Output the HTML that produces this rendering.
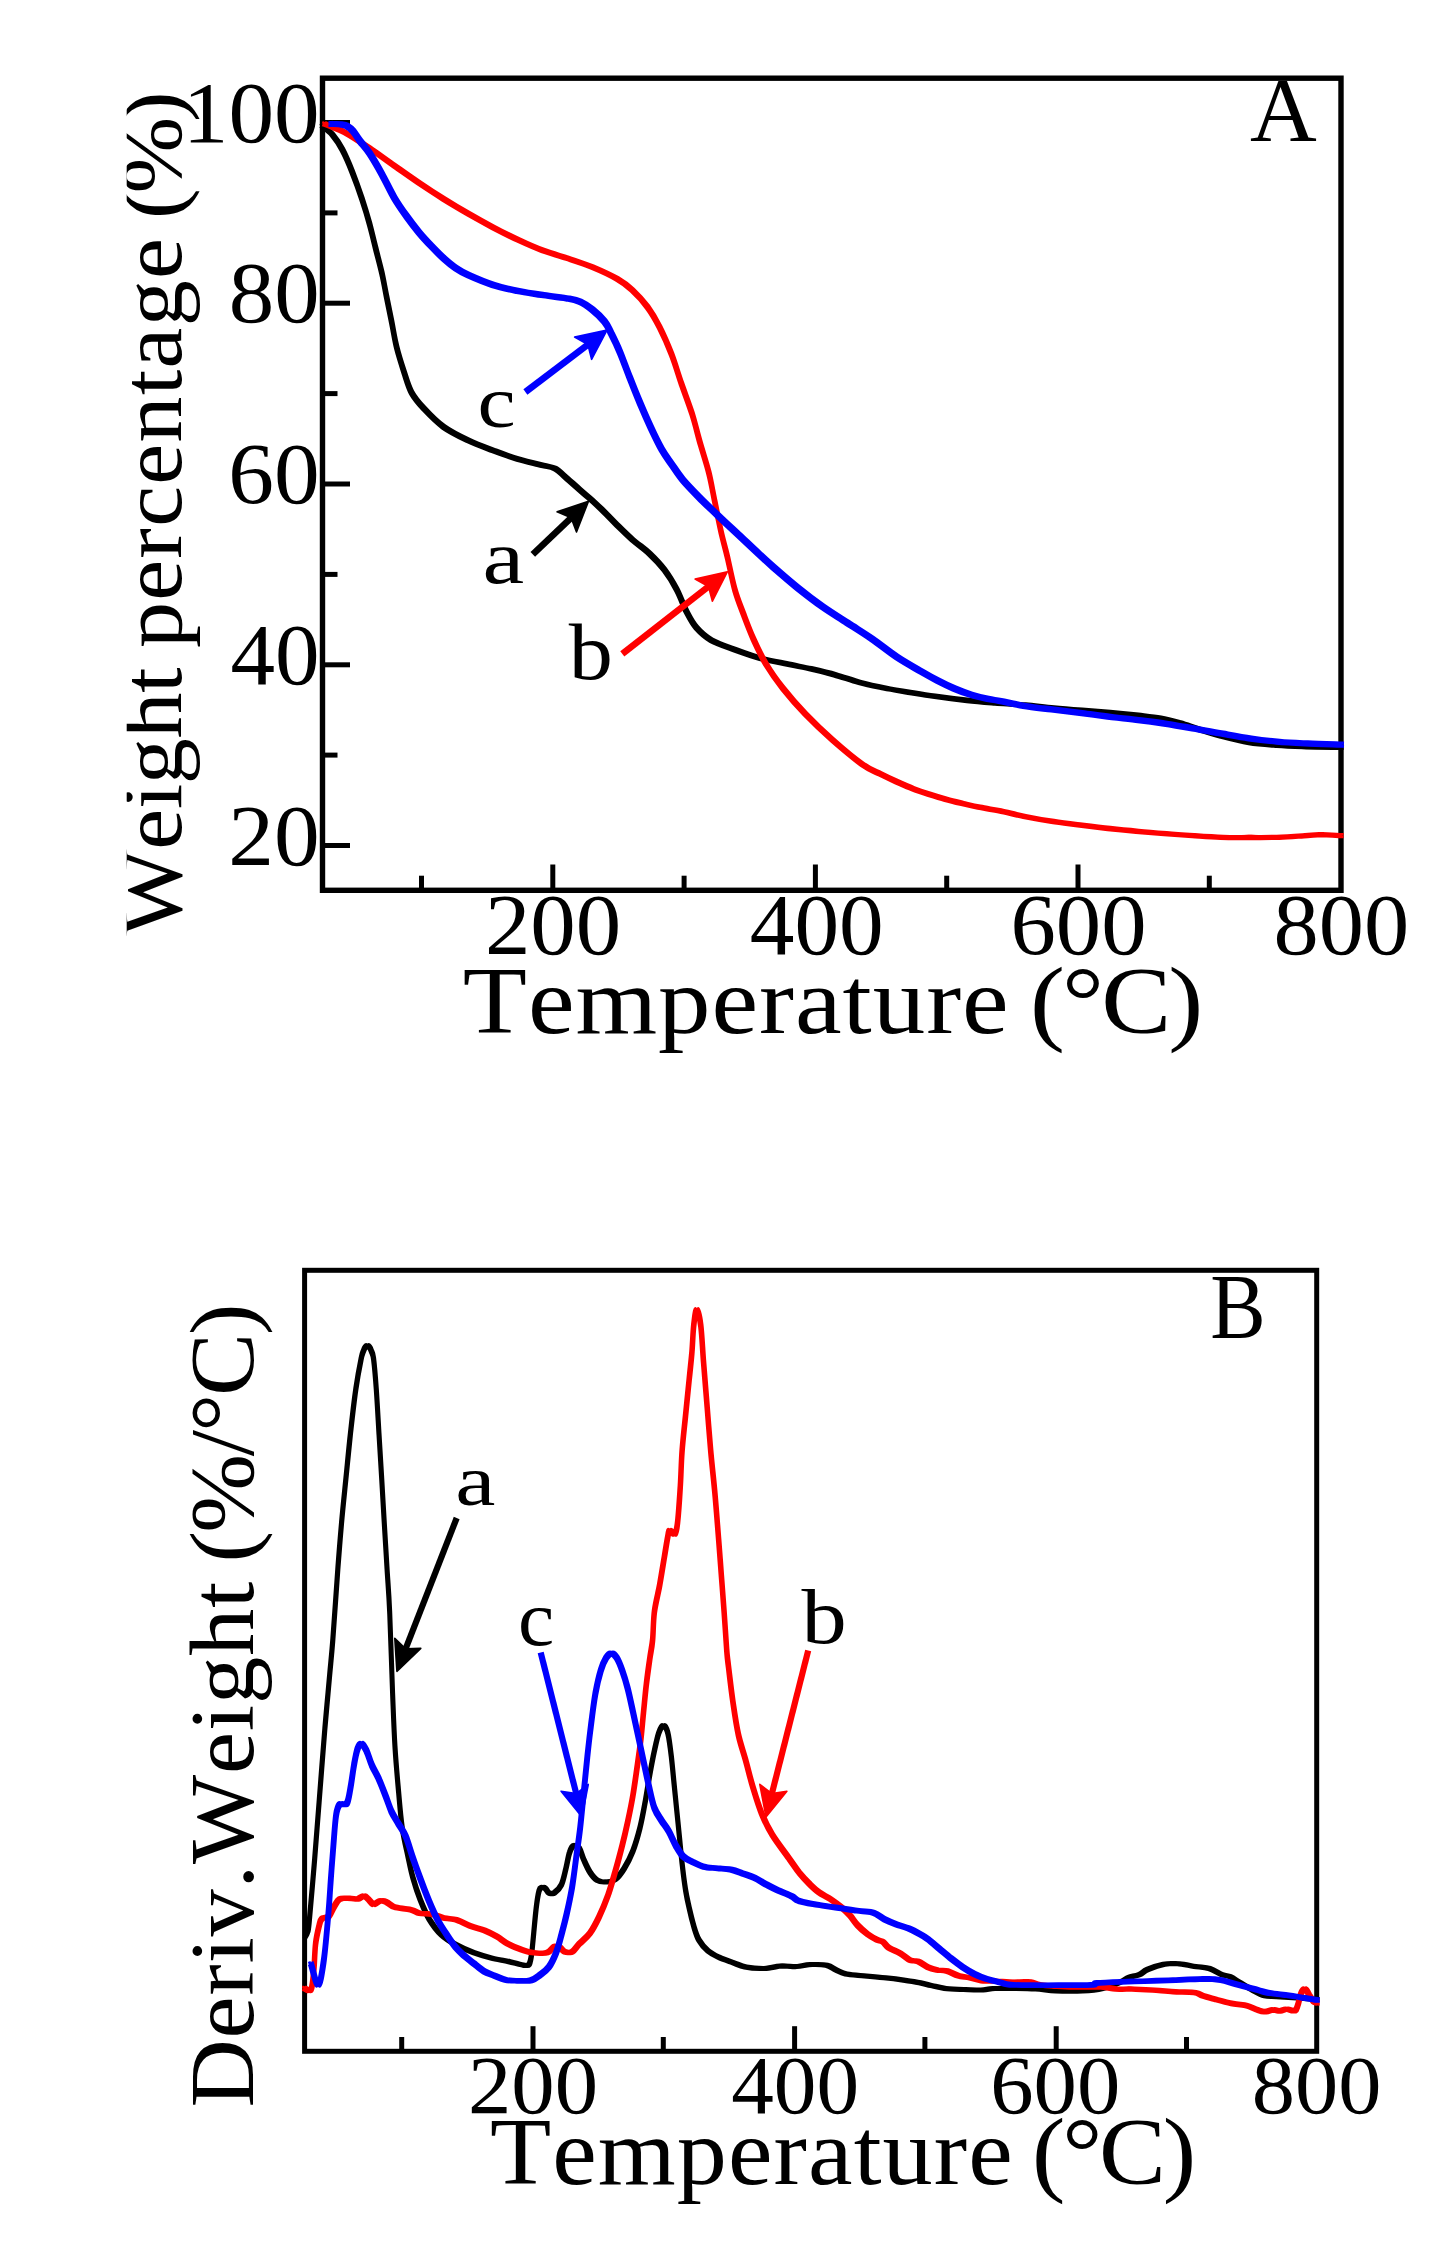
<!DOCTYPE html>
<html lang="en"><head><meta charset="utf-8"><title>TGA and DTG curves</title>
<style>
html,body{margin:0;padding:0;background:#fff}
svg{display:block}
text{font-family:"Liberation Serif",serif;fill:#000}
</style></head><body>
<svg width="1455" height="2264" viewBox="0 0 1455 2264">
<rect width="1455" height="2264" fill="#fff"/>

<g id="plotA">
<rect x="322.5" y="78.2" width="1018.5" height="812.1" fill="none" stroke="#000" stroke-width="5.4"/>
<line x1="322.5" x2="350" y1="122.5" y2="122.5" stroke="#000" stroke-width="5"/>
<line x1="322.5" x2="337.5" y1="212.9" y2="212.9" stroke="#000" stroke-width="5"/>
<line x1="322.5" x2="350" y1="303.2" y2="303.2" stroke="#000" stroke-width="5"/>
<line x1="322.5" x2="337.5" y1="393.6" y2="393.6" stroke="#000" stroke-width="5"/>
<line x1="322.5" x2="350" y1="484.0" y2="484.0" stroke="#000" stroke-width="5"/>
<line x1="322.5" x2="337.5" y1="574.4" y2="574.4" stroke="#000" stroke-width="5"/>
<line x1="322.5" x2="350" y1="664.8" y2="664.8" stroke="#000" stroke-width="5"/>
<line x1="322.5" x2="337.5" y1="755.1" y2="755.1" stroke="#000" stroke-width="5"/>
<line x1="322.5" x2="350" y1="845.5" y2="845.5" stroke="#000" stroke-width="5"/>
<line x1="552.8" x2="552.8" y1="890" y2="864.5" stroke="#000" stroke-width="5"/>
<line x1="815.4" x2="815.4" y1="890" y2="864.5" stroke="#000" stroke-width="5"/>
<line x1="1078.0" x2="1078.0" y1="890" y2="864.5" stroke="#000" stroke-width="5"/>
<line x1="421.5" x2="421.5" y1="890" y2="875.7" stroke="#000" stroke-width="5"/>
<line x1="684.1" x2="684.1" y1="890" y2="875.7" stroke="#000" stroke-width="5"/>
<line x1="946.7" x2="946.7" y1="890" y2="875.7" stroke="#000" stroke-width="5"/>
<line x1="1209.3" x2="1209.3" y1="890" y2="875.7" stroke="#000" stroke-width="5"/>
<path d="M322.5,126.0C324.1,127.4 329.1,130.7 332.4,134.6C335.7,138.5 339.0,143.3 342.3,149.5C345.6,155.7 348.9,163.6 352.2,171.8C355.5,180.1 359.1,190.3 362.0,199.0C364.9,207.7 367.2,215.4 369.5,223.7C371.8,231.9 373.6,240.2 375.7,248.5C377.8,256.8 380.0,265.0 381.9,273.2C383.8,281.4 385.1,289.6 386.8,297.9C388.5,306.1 390.2,314.4 391.8,322.7C393.4,330.9 394.6,339.1 396.7,347.4C398.8,355.6 401.6,364.7 404.1,372.2C406.6,379.7 408.2,386.3 411.5,392.4C414.8,398.4 418.5,402.7 423.9,408.5C429.3,414.3 436.3,421.6 443.7,427.0C451.1,432.4 460.2,436.7 468.5,440.6C476.8,444.5 484.9,447.4 493.2,450.5C501.4,453.6 509.8,456.7 518.0,459.2C526.2,461.7 536.5,463.8 542.7,465.4C548.9,467.0 550.9,466.4 555.0,468.6C559.1,470.8 563.2,475.2 567.4,478.8C571.6,482.4 575.9,486.4 580.0,490.0C584.1,493.6 588.1,496.8 592.2,500.5C596.3,504.2 600.4,508.1 604.5,512.2C608.6,516.3 612.4,520.5 617.0,525.0C621.6,529.5 626.8,534.7 632.2,539.5C637.6,544.3 644.1,548.6 649.5,553.6C654.9,558.6 659.8,563.7 664.3,569.7C668.8,575.7 673.0,582.5 676.7,589.5C680.4,596.5 683.3,605.4 686.6,611.8C689.9,618.2 692.4,623.1 696.5,627.8C700.6,632.5 704.7,636.5 711.3,640.2C717.9,643.9 727.9,647.1 736.1,650.1C744.4,653.1 752.5,656.0 760.8,658.3C769.0,660.6 777.4,662.0 785.6,663.7C793.9,665.4 802.1,666.9 810.3,668.7C818.5,670.6 826.8,672.5 835.0,674.8C843.2,677.1 851.5,680.3 859.8,682.5C868.0,684.7 876.2,686.4 884.5,688.0C892.8,689.6 901.0,690.9 909.3,692.3C917.5,693.7 924.2,694.8 934.0,696.2C943.8,697.6 957.8,699.4 968.2,700.5C978.6,701.6 987.0,702.4 996.4,703.1C1005.8,703.9 1015.1,704.2 1024.5,705.0C1033.9,705.8 1043.3,707.0 1052.7,707.9C1062.1,708.8 1071.5,709.5 1080.9,710.2C1090.3,711.0 1099.6,711.6 1109.0,712.4C1118.4,713.2 1128.8,714.2 1137.3,715.2C1145.8,716.2 1152.8,716.8 1159.8,718.1C1166.8,719.4 1172.9,721.0 1179.5,722.9C1186.1,724.8 1192.2,727.1 1199.2,729.3C1206.2,731.5 1213.3,733.9 1221.8,736.1C1230.3,738.3 1240.6,741.1 1250.0,742.6C1259.4,744.1 1268.7,744.7 1278.1,745.4C1287.5,746.1 1295.8,746.5 1306.3,746.8C1316.8,747.1 1335.2,747.3 1341.0,747.4M321.1,124.6C322.8,126.1 327.7,129.3 331.0,133.2C334.3,137.2 337.6,141.9 340.9,148.1C344.2,154.3 347.6,162.2 350.8,170.4C354.1,178.7 357.8,189.0 360.6,197.6C363.5,206.3 365.9,214.1 368.1,222.3C370.4,230.6 372.3,238.9 374.3,247.1C376.4,255.4 378.7,263.6 380.5,271.8C382.4,280.1 383.8,288.3 385.4,296.5C387.1,304.8 388.8,313.1 390.4,321.3C392.1,329.6 393.3,337.8 395.3,346.0C397.4,354.3 400.3,363.3 402.7,370.8C405.2,378.3 406.8,385.0 410.1,391.0C413.4,397.1 417.2,401.4 422.5,407.1C427.9,412.9 434.9,420.3 442.3,425.6C449.8,431.0 458.9,435.3 467.1,439.2C475.4,443.2 483.6,446.0 491.8,449.1C500.1,452.2 508.4,455.4 516.6,457.8C524.9,460.3 535.2,462.5 541.3,464.0C547.5,465.6 549.5,465.0 553.6,467.2C557.8,469.5 561.9,473.9 566.0,477.4C570.2,481.0 574.5,485.0 578.6,488.6C582.8,492.3 586.8,495.4 590.8,499.1C594.9,502.8 599.0,506.8 603.1,510.8C607.3,514.9 611.0,519.1 615.6,523.6C620.3,528.2 625.4,533.4 630.8,538.1C636.3,542.9 642.8,547.2 648.1,552.2C653.5,557.3 658.4,562.4 662.9,568.3C667.5,574.3 671.6,581.1 675.3,588.1C679.1,595.2 681.9,604.1 685.2,610.4C688.5,616.8 691.0,621.7 695.1,626.4C699.3,631.2 703.3,635.1 709.9,638.8C716.5,642.6 726.5,645.7 734.7,648.7C743.0,651.8 751.2,654.7 759.4,656.9C767.7,659.2 776.0,660.6 784.2,662.3C792.5,664.1 800.7,665.5 808.9,667.3C817.2,669.2 825.4,671.1 833.6,673.4C841.9,675.7 850.2,678.9 858.4,681.1C866.7,683.3 874.9,685.0 883.1,686.6C891.4,688.3 899.7,689.6 907.9,690.9C916.2,692.3 922.8,693.5 932.6,694.8C942.5,696.2 956.4,698.0 966.8,699.1C977.2,700.3 985.7,701.0 995.0,701.7C1004.4,702.5 1013.8,702.8 1023.1,703.6C1032.5,704.4 1041.9,705.7 1051.3,706.5C1060.7,707.4 1070.2,708.1 1079.5,708.8C1088.9,709.6 1098.2,710.2 1107.6,711.0C1117.0,711.9 1127.5,712.9 1135.9,713.8C1144.4,714.8 1151.4,715.5 1158.4,716.7C1165.5,718.0 1171.6,719.7 1178.1,721.5C1184.7,723.4 1190.8,725.7 1197.8,727.9C1204.9,730.1 1212.0,732.5 1220.4,734.7C1228.9,737.0 1239.3,739.7 1248.6,741.2C1258.0,742.8 1267.4,743.3 1276.7,744.0C1286.1,744.7 1294.5,745.1 1304.9,745.4C1315.4,745.8 1333.9,745.9 1339.6,746.0M323.9,124.6C325.5,126.1 330.5,129.3 333.8,133.2C337.1,137.2 340.4,141.9 343.7,148.1C347.0,154.3 350.3,162.2 353.6,170.4C356.8,178.7 360.5,189.0 363.4,197.6C366.2,206.3 368.6,214.1 370.9,222.3C373.1,230.6 375.0,238.9 377.1,247.1C379.1,255.4 381.4,263.6 383.3,271.8C385.1,280.1 386.5,288.3 388.2,296.5C389.8,304.8 391.5,313.1 393.2,321.3C394.8,329.6 396.0,337.8 398.1,346.0C400.1,354.3 403.0,363.3 405.5,370.8C407.9,378.3 409.6,385.0 412.9,391.0C416.2,397.1 419.9,401.4 425.3,407.1C430.6,412.9 437.6,420.3 445.1,425.6C452.5,431.0 461.6,435.3 469.9,439.2C478.1,443.2 486.3,446.0 494.6,449.1C502.8,452.2 511.1,455.4 519.4,457.8C527.6,460.3 537.9,462.5 544.1,464.0C550.2,465.6 552.2,465.0 556.4,467.2C560.5,469.5 564.6,473.9 568.8,477.4C572.9,481.0 577.2,485.0 581.4,488.6C585.5,492.3 589.5,495.4 593.6,499.1C597.6,502.8 601.7,506.8 605.9,510.8C610.0,514.9 613.7,519.1 618.4,523.6C623.0,528.2 628.1,533.4 633.6,538.1C639.0,542.9 645.5,547.2 650.9,552.2C656.2,557.3 661.1,562.4 665.7,568.3C670.2,574.3 674.3,581.1 678.1,588.1C681.8,595.2 684.7,604.1 688.0,610.4C691.3,616.8 693.7,621.7 697.9,626.4C702.0,631.2 706.1,635.1 712.7,638.8C719.3,642.6 729.2,645.7 737.5,648.7C745.7,651.8 753.9,654.7 762.2,656.9C770.4,659.2 778.7,660.6 787.0,662.3C795.2,664.1 803.4,665.5 811.7,667.3C819.9,669.2 828.1,671.1 836.4,673.4C844.6,675.7 852.9,678.9 861.2,681.1C869.4,683.3 877.6,685.0 885.9,686.6C894.1,688.3 902.4,689.6 910.7,690.9C918.9,692.3 925.5,693.5 935.4,694.8C945.2,696.2 959.2,698.0 969.6,699.1C980.0,700.3 988.4,701.0 997.8,701.7C1007.1,702.5 1016.5,702.8 1025.9,703.6C1035.2,704.4 1044.7,705.7 1054.1,706.5C1063.5,707.4 1072.9,708.1 1082.3,708.8C1091.6,709.6 1101.0,710.2 1110.4,711.0C1119.8,711.9 1130.2,712.9 1138.7,713.8C1147.1,714.8 1154.1,715.5 1161.2,716.7C1168.2,718.0 1174.3,719.7 1180.9,721.5C1187.4,723.4 1193.5,725.7 1200.6,727.9C1207.6,730.1 1214.7,732.5 1223.2,734.7C1231.6,737.0 1242.0,739.7 1251.4,741.2C1260.7,742.8 1270.1,743.3 1279.5,744.0C1288.8,744.7 1297.2,745.1 1307.7,745.4C1318.1,745.8 1336.6,745.9 1342.4,746.0M321.1,127.4C322.8,128.8 327.7,132.0 331.0,136.0C334.3,139.9 337.6,144.7 340.9,150.9C344.2,157.1 347.6,164.9 350.8,173.2C354.1,181.4 357.8,191.7 360.6,200.4C363.5,209.0 365.9,216.8 368.1,225.1C370.4,233.3 372.3,241.6 374.3,249.9C376.4,258.1 378.7,266.3 380.5,274.6C382.4,282.8 383.8,291.0 385.4,299.3C387.1,307.5 388.8,315.8 390.4,324.1C392.1,332.3 393.3,340.5 395.3,348.8C397.4,357.0 400.3,366.1 402.7,373.6C405.2,381.1 406.8,387.7 410.1,393.8C413.4,399.8 417.2,404.1 422.5,409.9C427.9,415.6 434.9,423.0 442.3,428.4C449.8,433.7 458.9,438.0 467.1,442.0C475.4,445.9 483.6,448.8 491.8,451.9C500.1,455.0 508.4,458.1 516.6,460.6C524.9,463.0 535.2,465.2 541.3,466.8C547.5,468.3 549.5,467.7 553.6,470.0C557.8,472.2 561.9,476.6 566.0,480.2C570.2,483.7 574.5,487.7 578.6,491.4C582.8,495.0 586.8,498.2 590.8,501.9C594.9,505.6 599.0,509.5 603.1,513.6C607.3,517.6 611.0,521.8 615.6,526.4C620.3,530.9 625.4,536.1 630.8,540.9C636.3,545.6 642.8,549.9 648.1,555.0C653.5,560.0 658.4,565.1 662.9,571.1C667.5,577.0 671.6,583.8 675.3,590.9C679.1,597.9 681.9,606.8 685.2,613.2C688.5,619.5 691.0,624.4 695.1,629.2C699.3,633.9 703.3,637.8 709.9,641.6C716.5,645.3 726.5,648.4 734.7,651.5C743.0,654.5 751.2,657.4 759.4,659.7C767.7,661.9 776.0,663.3 784.2,665.1C792.5,666.8 800.7,668.2 808.9,670.1C817.2,671.9 825.4,673.9 833.6,676.2C841.9,678.5 850.2,681.7 858.4,683.9C866.7,686.1 874.9,687.7 883.1,689.4C891.4,691.0 899.7,692.3 907.9,693.7C916.2,695.0 922.8,696.2 932.6,697.6C942.5,698.9 956.4,700.7 966.8,701.9C977.2,703.0 985.7,703.7 995.0,704.5C1004.4,705.2 1013.8,705.6 1023.1,706.4C1032.5,707.2 1041.9,708.4 1051.3,709.3C1060.7,710.1 1070.2,710.8 1079.5,711.6C1088.9,712.3 1098.2,712.9 1107.6,713.8C1117.0,714.6 1127.5,715.6 1135.9,716.6C1144.4,717.5 1151.4,718.2 1158.4,719.5C1165.5,720.7 1171.6,722.4 1178.1,724.3C1184.7,726.1 1190.8,728.5 1197.8,730.7C1204.9,732.9 1212.0,735.2 1220.4,737.5C1228.9,739.7 1239.3,742.4 1248.6,744.0C1258.0,745.5 1267.4,746.1 1276.7,746.8C1286.1,747.5 1294.5,747.8 1304.9,748.2C1315.4,748.5 1333.9,748.7 1339.6,748.8M323.9,127.4C325.5,128.8 330.5,132.0 333.8,136.0C337.1,139.9 340.4,144.7 343.7,150.9C347.0,157.1 350.3,164.9 353.6,173.2C356.8,181.4 360.5,191.7 363.4,200.4C366.2,209.0 368.6,216.8 370.9,225.1C373.1,233.3 375.0,241.6 377.1,249.9C379.1,258.1 381.4,266.3 383.3,274.6C385.1,282.8 386.5,291.0 388.2,299.3C389.8,307.5 391.5,315.8 393.2,324.1C394.8,332.3 396.0,340.5 398.1,348.8C400.1,357.0 403.0,366.1 405.5,373.6C407.9,381.1 409.6,387.7 412.9,393.8C416.2,399.8 419.9,404.1 425.3,409.9C430.6,415.6 437.6,423.0 445.1,428.4C452.5,433.7 461.6,438.0 469.9,442.0C478.1,445.9 486.3,448.8 494.6,451.9C502.8,455.0 511.1,458.1 519.4,460.6C527.6,463.0 537.9,465.2 544.1,466.8C550.2,468.3 552.2,467.7 556.4,470.0C560.5,472.2 564.6,476.6 568.8,480.2C572.9,483.7 577.2,487.7 581.4,491.4C585.5,495.0 589.5,498.2 593.6,501.9C597.6,505.6 601.7,509.5 605.9,513.6C610.0,517.6 613.7,521.8 618.4,526.4C623.0,530.9 628.1,536.1 633.6,540.9C639.0,545.6 645.5,549.9 650.9,555.0C656.2,560.0 661.1,565.1 665.7,571.1C670.2,577.0 674.3,583.8 678.1,590.9C681.8,597.9 684.7,606.8 688.0,613.2C691.3,619.5 693.7,624.4 697.9,629.2C702.0,633.9 706.1,637.8 712.7,641.6C719.3,645.3 729.2,648.4 737.5,651.5C745.7,654.5 753.9,657.4 762.2,659.7C770.4,661.9 778.7,663.3 787.0,665.1C795.2,666.8 803.4,668.2 811.7,670.1C819.9,671.9 828.1,673.9 836.4,676.2C844.6,678.5 852.9,681.7 861.2,683.9C869.4,686.1 877.6,687.7 885.9,689.4C894.1,691.0 902.4,692.3 910.7,693.7C918.9,695.0 925.5,696.2 935.4,697.6C945.2,698.9 959.2,700.7 969.6,701.9C980.0,703.0 988.4,703.7 997.8,704.5C1007.1,705.2 1016.5,705.6 1025.9,706.4C1035.2,707.2 1044.7,708.4 1054.1,709.3C1063.5,710.1 1072.9,710.8 1082.3,711.6C1091.6,712.3 1101.0,712.9 1110.4,713.8C1119.8,714.6 1130.2,715.6 1138.7,716.6C1147.1,717.5 1154.1,718.2 1161.2,719.5C1168.2,720.7 1174.3,722.4 1180.9,724.3C1187.4,726.1 1193.5,728.5 1200.6,730.7C1207.6,732.9 1214.7,735.2 1223.2,737.5C1231.6,739.7 1242.0,742.4 1251.4,744.0C1260.7,745.5 1270.1,746.1 1279.5,746.8C1288.8,747.5 1297.2,747.8 1307.7,748.2C1318.1,748.5 1336.6,748.7 1342.4,748.8" fill="none" stroke="#000000" stroke-width="2.48" stroke-linejoin="round" stroke-linecap="square"/>
<path d="M324.8,124.0C326.2,124.5 329.7,125.9 333.0,127.3C336.3,128.7 338.6,128.9 344.7,132.4C350.8,135.9 361.2,142.7 369.5,148.2C377.8,153.7 385.9,159.8 394.2,165.6C402.4,171.4 410.8,177.3 419.0,182.9C427.2,188.5 435.4,193.8 443.7,199.0C451.9,204.2 460.2,209.1 468.5,213.8C476.8,218.5 484.9,223.1 493.2,227.4C501.4,231.7 509.8,236.0 518.0,239.8C526.2,243.6 534.5,247.3 542.7,250.4C550.9,253.5 559.1,255.5 567.4,258.3C575.6,261.1 583.9,263.6 592.2,267.0C600.5,270.4 610.3,275.0 617.0,278.8C623.7,282.6 627.1,285.3 632.2,290.0C637.3,294.7 643.0,300.8 647.5,307.0C652.0,313.2 655.5,319.1 659.5,327.0C663.5,334.9 667.8,344.7 671.5,354.2C675.2,363.7 678.1,374.0 681.5,383.9C684.9,393.8 688.9,403.7 692.0,413.6C695.1,423.5 697.4,433.4 700.2,443.3C703.0,453.2 706.4,463.1 708.9,473.0C711.4,482.9 713.0,492.8 715.0,502.7C717.0,512.6 719.1,523.3 721.2,532.4C723.3,541.5 725.1,547.6 727.4,557.1C729.7,566.6 732.1,580.0 734.8,589.5C737.5,599.0 740.4,606.0 743.5,614.2C746.6,622.5 749.7,630.8 753.4,639.0C757.1,647.2 760.8,655.5 765.8,663.7C770.8,672.0 776.5,680.1 783.1,688.5C789.7,696.9 797.1,705.4 805.4,714.0C813.6,722.6 823.1,731.6 832.6,740.0C842.1,748.4 854.4,758.7 862.3,764.3C870.2,769.9 874.3,770.9 880.0,773.8C885.7,776.7 891.0,779.1 896.5,781.6C902.0,784.1 907.5,786.6 913.0,788.7C918.5,790.8 924.0,792.6 929.5,794.4C935.0,796.2 940.5,797.9 946.0,799.4C951.5,800.9 957.0,802.2 962.5,803.5C968.0,804.8 972.8,806.0 979.0,807.2C985.2,808.4 992.4,809.4 1000.0,810.9C1007.6,812.4 1015.7,814.7 1024.5,816.5C1033.3,818.3 1043.3,820.1 1052.7,821.5C1062.1,822.9 1071.5,823.9 1080.9,825.1C1090.3,826.3 1099.6,827.5 1109.0,828.5C1118.4,829.5 1127.9,830.4 1137.3,831.3C1146.7,832.1 1156.0,832.9 1165.4,833.6C1174.8,834.3 1184.2,835.0 1193.6,835.6C1203.0,836.2 1212.4,837.0 1221.8,837.3C1231.2,837.6 1240.6,837.5 1250.0,837.5C1259.4,837.5 1268.7,837.6 1278.1,837.3C1287.5,837.0 1299.2,836.0 1306.3,835.6C1313.3,835.2 1314.6,834.7 1320.4,834.7C1326.2,834.7 1337.6,835.5 1341.0,835.6M323.4,122.6C324.8,123.2 328.3,124.5 331.6,125.9C335.0,127.3 337.3,127.6 343.3,131.0C349.4,134.5 359.9,141.3 368.1,146.8C376.4,152.4 384.6,158.5 392.8,164.2C401.1,170.0 409.4,176.0 417.6,181.5C425.9,187.1 434.1,192.5 442.3,197.6C450.6,202.8 458.9,207.7 467.1,212.4C475.4,217.2 483.6,221.7 491.8,226.0C500.1,230.4 508.4,234.6 516.6,238.4C524.9,242.3 533.1,246.0 541.3,249.0C549.6,252.1 557.8,254.2 566.0,256.9C574.3,259.7 582.6,262.2 590.8,265.6C599.1,269.1 609.0,273.6 615.6,277.4C622.3,281.3 625.8,283.9 630.8,288.6C635.9,293.3 641.6,299.5 646.1,305.6C650.7,311.8 654.1,317.8 658.1,325.6C662.1,333.5 666.5,343.4 670.1,352.8C673.8,362.3 676.7,372.6 680.1,382.5C683.6,392.4 687.5,402.3 690.6,412.2C693.8,422.1 696.0,432.0 698.8,441.9C701.7,451.8 705.1,461.7 707.5,471.6C710.0,481.5 711.6,491.4 713.6,501.3C715.7,511.2 717.8,522.0 719.8,531.0C721.9,540.1 723.8,546.2 726.0,555.7C728.3,565.3 730.8,578.6 733.4,588.1C736.1,597.7 739.0,604.6 742.1,612.8C745.2,621.1 748.3,629.4 752.0,637.6C755.8,645.9 759.5,654.1 764.4,662.3C769.4,670.6 775.1,678.8 781.7,687.1C788.3,695.5 795.8,704.1 804.0,712.6C812.3,721.2 821.8,730.3 831.2,738.6C840.7,747.0 853.0,757.3 860.9,762.9C868.8,768.6 872.9,769.6 878.6,772.4C884.3,775.3 889.6,777.8 895.1,780.2C900.6,782.7 906.1,785.2 911.6,787.3C917.1,789.5 922.6,791.3 928.1,793.0C933.6,794.8 939.1,796.5 944.6,798.0C950.1,799.6 955.6,800.8 961.1,802.1C966.6,803.4 971.4,804.6 977.6,805.8C983.9,807.1 991.1,808.0 998.6,809.5C1006.2,811.1 1014.4,813.4 1023.1,815.1C1031.9,816.9 1041.9,818.7 1051.3,820.1C1060.7,821.6 1070.2,822.6 1079.5,823.7C1088.9,824.9 1098.2,826.1 1107.6,827.1C1117.0,828.2 1126.5,829.1 1135.9,829.9C1145.3,830.8 1154.7,831.5 1164.0,832.2C1173.4,833.0 1182.8,833.6 1192.2,834.2C1201.6,834.9 1211.0,835.6 1220.4,835.9C1229.8,836.3 1239.3,836.1 1248.6,836.1C1258.0,836.1 1267.4,836.3 1276.7,835.9C1286.1,835.6 1297.9,834.7 1304.9,834.2C1312.0,833.8 1313.3,833.3 1319.0,833.3C1324.8,833.3 1336.2,834.1 1339.6,834.2M326.2,122.6C327.5,123.2 331.0,124.5 334.4,125.9C337.7,127.3 340.0,127.6 346.1,131.0C352.1,134.5 362.6,141.3 370.9,146.8C379.1,152.4 387.3,158.5 395.6,164.2C403.8,170.0 412.1,176.0 420.4,181.5C428.6,187.1 436.8,192.5 445.1,197.6C453.3,202.8 461.6,207.7 469.9,212.4C478.1,217.2 486.3,221.7 494.6,226.0C502.8,230.4 511.1,234.6 519.4,238.4C527.6,242.3 535.8,246.0 544.1,249.0C552.3,252.1 560.5,254.2 568.8,256.9C577.0,259.7 585.3,262.2 593.6,265.6C601.8,269.1 611.7,273.6 618.4,277.4C625.0,281.3 628.5,283.9 633.6,288.6C638.6,293.3 644.3,299.5 648.9,305.6C653.4,311.8 656.9,317.8 660.9,325.6C664.9,333.5 669.2,343.4 672.9,352.8C676.5,362.3 679.4,372.6 682.9,382.5C686.3,392.4 690.2,402.3 693.4,412.2C696.5,422.1 698.7,432.0 701.6,441.9C704.4,451.8 707.8,461.7 710.3,471.6C712.7,481.5 714.3,491.4 716.4,501.3C718.4,511.2 720.5,522.0 722.6,531.0C724.6,540.1 726.5,546.2 728.8,555.7C731.0,565.3 733.5,578.6 736.2,588.1C738.8,597.7 741.8,604.6 744.9,612.8C748.0,621.1 751.0,629.4 754.8,637.6C758.5,645.9 762.2,654.1 767.2,662.3C772.1,670.6 777.9,678.8 784.5,687.1C791.1,695.5 798.5,704.1 806.8,712.6C815.0,721.2 824.5,730.3 834.0,738.6C843.4,747.0 855.8,757.3 863.7,762.9C871.6,768.6 875.7,769.6 881.4,772.4C887.1,775.3 892.4,777.8 897.9,780.2C903.4,782.7 908.9,785.2 914.4,787.3C919.9,789.5 925.4,791.3 930.9,793.0C936.4,794.8 941.9,796.5 947.4,798.0C952.9,799.6 958.4,800.8 963.9,802.1C969.4,803.4 974.1,804.6 980.4,805.8C986.6,807.1 993.8,808.0 1001.4,809.5C1008.9,811.1 1017.1,813.4 1025.9,815.1C1034.6,816.9 1044.7,818.7 1054.1,820.1C1063.5,821.6 1072.9,822.6 1082.3,823.7C1091.6,824.9 1101.0,826.1 1110.4,827.1C1119.8,828.2 1129.3,829.1 1138.7,829.9C1148.1,830.8 1157.4,831.5 1166.8,832.2C1176.1,833.0 1185.6,833.6 1195.0,834.2C1204.4,834.9 1213.8,835.6 1223.2,835.9C1232.6,836.3 1242.0,836.1 1251.4,836.1C1260.7,836.1 1270.1,836.3 1279.5,835.9C1288.8,835.6 1300.6,834.7 1307.7,834.2C1314.7,833.8 1316.0,833.3 1321.8,833.3C1327.5,833.3 1338.9,834.1 1342.4,834.2M323.4,125.4C324.8,125.9 328.3,127.3 331.6,128.7C335.0,130.1 337.3,130.3 343.3,133.8C349.4,137.2 359.9,144.0 368.1,149.6C376.4,155.1 384.6,161.2 392.8,167.0C401.1,172.7 409.4,178.7 417.6,184.3C425.9,189.8 434.1,195.2 442.3,200.4C450.6,205.5 458.9,210.4 467.1,215.2C475.4,219.9 483.6,224.4 491.8,228.8C500.1,233.1 508.4,237.3 516.6,241.2C524.9,245.0 533.1,248.7 541.3,251.8C549.6,254.8 557.8,256.9 566.0,259.7C574.3,262.4 582.6,264.9 590.8,268.4C599.1,271.8 609.0,276.3 615.6,280.2C622.3,284.0 625.8,286.7 630.8,291.4C635.9,296.1 641.6,302.2 646.1,308.4C650.7,314.5 654.1,320.5 658.1,328.4C662.1,336.2 666.5,346.1 670.1,355.6C673.8,365.0 676.7,375.4 680.1,385.3C683.6,395.2 687.5,405.1 690.6,415.0C693.8,424.9 696.0,434.8 698.8,444.7C701.7,454.6 705.1,464.5 707.5,474.4C710.0,484.3 711.6,494.2 713.6,504.1C715.7,514.0 717.8,524.7 719.8,533.8C721.9,542.8 723.8,548.9 726.0,558.5C728.3,568.0 730.8,581.3 733.4,590.9C736.1,600.4 739.0,607.3 742.1,615.6C745.2,623.8 748.3,632.1 752.0,640.4C755.8,648.6 759.5,656.8 764.4,665.1C769.4,673.3 775.1,681.5 781.7,689.9C788.3,698.2 795.8,706.8 804.0,715.4C812.3,723.9 821.8,733.0 831.2,741.4C840.7,749.7 853.0,760.0 860.9,765.7C868.8,771.3 872.9,772.3 878.6,775.2C884.3,778.0 889.6,780.5 895.1,783.0C900.6,785.4 906.1,787.9 911.6,790.1C917.1,792.2 922.6,794.0 928.1,795.8C933.6,797.5 939.1,799.2 944.6,800.8C950.1,802.3 955.6,803.6 961.1,804.9C966.6,806.2 971.4,807.3 977.6,808.6C983.9,809.8 991.1,810.7 998.6,812.3C1006.2,813.8 1014.4,816.1 1023.1,817.9C1031.9,819.6 1041.9,821.4 1051.3,822.9C1060.7,824.3 1070.2,825.3 1079.5,826.5C1088.9,827.6 1098.2,828.8 1107.6,829.9C1117.0,830.9 1126.5,831.8 1135.9,832.7C1145.3,833.5 1154.7,834.2 1164.0,835.0C1173.4,835.7 1182.8,836.3 1192.2,837.0C1201.6,837.6 1211.0,838.3 1220.4,838.7C1229.8,839.0 1239.3,838.9 1248.6,838.9C1258.0,838.9 1267.4,839.0 1276.7,838.7C1286.1,838.3 1297.9,837.4 1304.9,837.0C1312.0,836.5 1313.3,836.1 1319.0,836.1C1324.8,836.1 1336.2,836.8 1339.6,837.0M326.2,125.4C327.5,125.9 331.0,127.3 334.4,128.7C337.7,130.1 340.0,130.3 346.1,133.8C352.1,137.2 362.6,144.0 370.9,149.6C379.1,155.1 387.3,161.2 395.6,167.0C403.8,172.7 412.1,178.7 420.4,184.3C428.6,189.8 436.8,195.2 445.1,200.4C453.3,205.5 461.6,210.4 469.9,215.2C478.1,219.9 486.3,224.4 494.6,228.8C502.8,233.1 511.1,237.3 519.4,241.2C527.6,245.0 535.8,248.7 544.1,251.8C552.3,254.8 560.5,256.9 568.8,259.7C577.0,262.4 585.3,264.9 593.6,268.4C601.8,271.8 611.7,276.3 618.4,280.2C625.0,284.0 628.5,286.7 633.6,291.4C638.6,296.1 644.3,302.2 648.9,308.4C653.4,314.5 656.9,320.5 660.9,328.4C664.9,336.2 669.2,346.1 672.9,355.6C676.5,365.0 679.4,375.4 682.9,385.3C686.3,395.2 690.2,405.1 693.4,415.0C696.5,424.9 698.7,434.8 701.6,444.7C704.4,454.6 707.8,464.5 710.3,474.4C712.7,484.3 714.3,494.2 716.4,504.1C718.4,514.0 720.5,524.7 722.6,533.8C724.6,542.8 726.5,548.9 728.8,558.5C731.0,568.0 733.5,581.3 736.2,590.9C738.8,600.4 741.8,607.3 744.9,615.6C748.0,623.8 751.0,632.1 754.8,640.4C758.5,648.6 762.2,656.8 767.2,665.1C772.1,673.3 777.9,681.5 784.5,689.9C791.1,698.2 798.5,706.8 806.8,715.4C815.0,723.9 824.5,733.0 834.0,741.4C843.4,749.7 855.8,760.0 863.7,765.7C871.6,771.3 875.7,772.3 881.4,775.2C887.1,778.0 892.4,780.5 897.9,783.0C903.4,785.4 908.9,787.9 914.4,790.1C919.9,792.2 925.4,794.0 930.9,795.8C936.4,797.5 941.9,799.2 947.4,800.8C952.9,802.3 958.4,803.6 963.9,804.9C969.4,806.2 974.1,807.3 980.4,808.6C986.6,809.8 993.8,810.7 1001.4,812.3C1008.9,813.8 1017.1,816.1 1025.9,817.9C1034.6,819.6 1044.7,821.4 1054.1,822.9C1063.5,824.3 1072.9,825.3 1082.3,826.5C1091.6,827.6 1101.0,828.8 1110.4,829.9C1119.8,830.9 1129.3,831.8 1138.7,832.7C1148.1,833.5 1157.4,834.2 1166.8,835.0C1176.1,835.7 1185.6,836.3 1195.0,837.0C1204.4,837.6 1213.8,838.3 1223.2,838.7C1232.6,839.0 1242.0,838.9 1251.4,838.9C1260.7,838.9 1270.1,839.0 1279.5,838.7C1288.8,838.3 1300.6,837.4 1307.7,837.0C1314.7,836.5 1316.0,836.1 1321.8,836.1C1327.5,836.1 1338.9,836.8 1342.4,837.0" fill="none" stroke="#ff0000" stroke-width="2.48" stroke-linejoin="round" stroke-linecap="square"/>
<path d="M331.5,124.0C332.9,124.0 337.4,123.9 340.0,124.2C342.6,124.5 344.8,124.9 347.0,126.0C349.2,127.1 350.8,128.5 353.0,131.0C355.2,133.5 357.2,137.3 360.0,141.0C362.8,144.7 365.9,147.7 369.5,153.2C373.1,158.7 377.8,166.8 381.9,174.2C386.0,181.6 390.1,190.7 394.2,197.7C398.3,204.7 402.5,210.5 406.6,216.3C410.7,222.1 414.9,227.5 419.0,232.4C423.1,237.3 427.2,241.7 431.3,246.0C435.4,250.3 439.6,254.6 443.7,258.3C447.8,262.0 451.9,265.4 456.0,268.2C460.1,271.0 462.3,272.4 468.5,275.2C474.7,278.0 484.9,282.4 493.2,285.0C501.4,287.6 509.8,289.3 518.0,291.0C526.2,292.7 534.5,293.8 542.7,295.0C550.9,296.2 561.2,297.3 567.4,298.4C573.6,299.5 575.7,299.8 579.8,301.6C583.9,303.5 588.1,306.2 592.2,309.5C596.3,312.8 601.4,317.6 604.5,321.5C607.6,325.4 608.5,327.9 611.0,333.0C613.5,338.1 616.6,344.3 619.8,351.8C622.9,359.3 626.6,369.6 629.9,378.0C633.2,386.4 636.3,394.2 639.8,402.5C643.3,410.8 647.1,419.7 650.8,427.5C654.5,435.3 658.3,443.4 661.8,449.5C665.3,455.6 668.2,459.3 671.7,464.3C675.2,469.3 678.1,474.2 682.7,479.7C687.3,485.2 693.2,491.2 699.2,497.3C705.2,503.4 712.2,510.0 718.8,516.3C725.4,522.5 732.0,528.6 738.6,534.8C745.2,541.0 752.5,548.0 758.3,553.4C764.1,558.8 766.6,561.2 773.2,567.0C779.8,572.8 789.6,581.4 797.9,588.0C806.1,594.6 814.5,601.0 822.7,606.8C831.0,612.6 839.1,617.5 847.4,622.9C855.6,628.3 864.0,633.3 872.2,639.0C880.5,644.7 888.7,651.6 896.9,657.0C905.1,662.4 914.4,667.6 921.2,671.5C928.0,675.4 932.2,677.8 937.7,680.6C943.2,683.4 948.7,686.2 954.2,688.5C959.7,690.8 965.2,692.9 970.7,694.6C976.2,696.3 982.3,697.7 987.2,698.8C992.1,699.9 993.8,699.8 1000.0,701.0C1006.2,702.2 1015.7,704.5 1024.5,705.9C1033.3,707.3 1043.3,708.4 1052.7,709.6C1062.1,710.8 1071.5,711.8 1080.9,713.0C1090.3,714.2 1099.6,715.5 1109.0,716.7C1118.4,717.9 1127.9,718.8 1137.3,720.0C1146.7,721.2 1156.0,722.3 1165.4,723.7C1174.8,725.1 1184.2,726.9 1193.6,728.5C1203.0,730.1 1212.4,732.0 1221.8,733.6C1231.2,735.2 1240.6,737.0 1250.0,738.4C1259.4,739.8 1268.7,740.9 1278.1,741.7C1287.5,742.5 1295.8,742.9 1306.3,743.4C1316.8,743.9 1335.2,744.4 1341.0,744.6M329.9,122.4C331.3,122.5 335.8,122.3 338.4,122.6C341.0,123.0 343.3,123.3 345.4,124.4C347.6,125.6 349.3,126.9 351.4,129.4C353.6,131.9 355.7,135.7 358.4,139.4C361.2,143.1 364.3,146.1 367.9,151.6C371.6,157.2 376.2,165.2 380.3,172.6C384.4,180.0 388.5,189.1 392.6,196.1C396.7,203.1 400.9,208.9 405.0,214.7C409.2,220.5 413.3,225.9 417.4,230.8C421.5,235.8 425.6,240.1 429.7,244.4C433.8,248.7 438.0,253.0 442.1,256.7C446.2,260.4 450.3,263.8 454.4,266.6C458.6,269.4 460.7,270.8 466.9,273.6C473.1,276.4 483.4,280.8 491.6,283.4C499.9,286.1 508.2,287.8 516.4,289.4C524.7,291.1 532.9,292.2 541.1,293.4C549.4,294.7 559.6,295.7 565.8,296.8C572.0,297.9 574.1,298.2 578.2,300.0C582.4,301.9 586.5,304.6 590.6,307.9C594.7,311.2 599.8,316.0 602.9,319.9C606.1,323.8 606.9,326.4 609.4,331.4C612.0,336.5 615.1,342.7 618.2,350.2C621.4,357.7 625.0,368.0 628.3,376.4C631.7,384.9 634.7,392.7 638.2,400.9C641.7,409.2 645.6,418.1 649.2,425.9C652.9,433.8 656.7,441.8 660.2,447.9C663.7,454.1 666.6,457.7 670.1,462.7C673.6,467.8 676.5,472.6 681.1,478.1C685.7,483.6 691.6,489.6 697.6,495.7C703.6,501.8 710.7,508.5 717.2,514.7C723.8,521.0 730.4,527.0 737.0,533.2C743.6,539.4 751.0,546.5 756.7,551.8C762.5,557.2 765.0,559.7 771.6,565.4C778.2,571.2 788.1,579.8 796.3,586.4C804.6,593.1 812.9,599.4 821.1,605.2C829.4,611.0 837.6,616.0 845.8,621.3C854.1,626.7 862.4,631.7 870.6,637.4C878.9,643.1 887.2,650.0 895.3,655.4C903.5,660.8 912.8,666.0 919.6,669.9C926.4,673.9 930.6,676.2 936.1,679.0C941.6,681.9 947.1,684.6 952.6,686.9C958.1,689.3 963.6,691.3 969.1,693.0C974.6,694.7 980.7,696.2 985.6,697.2C990.5,698.3 992.2,698.2 998.4,699.4C1004.6,700.6 1014.1,702.9 1022.9,704.3C1031.7,705.8 1041.7,706.8 1051.1,708.0C1060.5,709.2 1069.9,710.2 1079.3,711.4C1088.7,712.6 1098.0,714.0 1107.4,715.1C1116.8,716.3 1126.3,717.3 1135.7,718.4C1145.1,719.6 1154.4,720.7 1163.8,722.1C1173.2,723.5 1182.6,725.3 1192.0,726.9C1201.4,728.6 1210.8,730.4 1220.2,732.0C1229.6,733.7 1239.0,735.5 1248.4,736.8C1257.8,738.2 1267.1,739.3 1276.5,740.1C1285.9,741.0 1294.2,741.3 1304.7,741.8C1315.2,742.3 1333.6,742.8 1339.4,743.0M333.1,122.4C334.5,122.5 339.0,122.3 341.6,122.6C344.2,123.0 346.4,123.3 348.6,124.4C350.7,125.6 352.4,126.9 354.6,129.4C356.7,131.9 358.8,135.7 361.6,139.4C364.3,143.1 367.4,146.1 371.1,151.6C374.7,157.2 379.4,165.2 383.5,172.6C387.6,180.0 391.7,189.1 395.8,196.1C399.9,203.1 404.0,208.9 408.2,214.7C412.3,220.5 416.5,225.9 420.6,230.8C424.7,235.8 428.8,240.1 432.9,244.4C437.0,248.7 441.2,253.0 445.3,256.7C449.4,260.4 453.4,263.8 457.6,266.6C461.7,269.4 463.9,270.8 470.1,273.6C476.3,276.4 486.5,280.8 494.8,283.4C503.0,286.1 511.3,287.8 519.6,289.4C527.8,291.1 536.0,292.2 544.3,293.4C552.5,294.7 562.8,295.7 569.0,296.8C575.2,297.9 577.2,298.2 581.4,300.0C585.5,301.9 589.7,304.6 593.8,307.9C597.9,311.2 602.9,316.0 606.1,319.9C609.2,323.8 610.0,326.4 612.6,331.4C615.1,336.5 618.2,342.7 621.4,350.2C624.5,357.7 628.1,368.0 631.5,376.4C634.8,384.9 637.9,392.7 641.4,400.9C644.9,409.2 648.7,418.1 652.4,425.9C656.0,433.8 659.9,441.8 663.4,447.9C666.9,454.1 669.8,457.7 673.3,462.7C676.8,467.8 679.7,472.6 684.3,478.1C688.9,483.6 694.8,489.6 700.8,495.7C706.8,501.8 713.8,508.5 720.4,514.7C726.9,521.0 733.6,527.0 740.2,533.2C746.8,539.4 754.1,546.5 759.9,551.8C765.6,557.2 768.2,559.7 774.8,565.4C781.4,571.2 791.2,579.8 799.5,586.4C807.7,593.1 816.0,599.4 824.3,605.2C832.5,611.0 840.7,616.0 849.0,621.3C857.2,626.7 865.5,631.7 873.8,637.4C882.0,643.1 890.3,650.0 898.5,655.4C906.6,660.8 916.0,666.0 922.8,669.9C929.6,673.9 933.8,676.2 939.3,679.0C944.8,681.9 950.3,684.6 955.8,686.9C961.3,689.3 966.8,691.3 972.3,693.0C977.8,694.7 983.9,696.2 988.8,697.2C993.7,698.3 995.4,698.2 1001.6,699.4C1007.8,700.6 1017.3,702.9 1026.1,704.3C1034.9,705.8 1044.9,706.8 1054.3,708.0C1063.7,709.2 1073.1,710.2 1082.5,711.4C1091.9,712.6 1101.2,714.0 1110.6,715.1C1120.0,716.3 1129.5,717.3 1138.9,718.4C1148.3,719.6 1157.6,720.7 1167.0,722.1C1176.4,723.5 1185.8,725.3 1195.2,726.9C1204.6,728.6 1214.0,730.4 1223.4,732.0C1232.8,733.7 1242.2,735.5 1251.6,736.8C1261.0,738.2 1270.3,739.3 1279.7,740.1C1289.1,741.0 1297.4,741.3 1307.9,741.8C1318.4,742.3 1336.8,742.8 1342.6,743.0M329.9,125.6C331.3,125.6 335.8,125.4 338.4,125.8C341.0,126.1 343.3,126.4 345.4,127.6C347.6,128.7 349.3,130.1 351.4,132.6C353.6,135.1 355.7,138.9 358.4,142.6C361.2,146.3 364.3,149.2 367.9,154.8C371.6,160.3 376.2,168.4 380.3,175.8C384.4,183.2 388.5,192.3 392.6,199.3C396.7,206.3 400.9,212.1 405.0,217.9C409.2,223.7 413.3,229.0 417.4,234.0C421.5,238.9 425.6,243.3 429.7,247.6C433.8,251.9 438.0,256.2 442.1,259.9C446.2,263.6 450.3,267.0 454.4,269.8C458.6,272.6 460.7,274.0 466.9,276.8C473.1,279.6 483.4,283.9 491.6,286.6C499.9,289.2 508.2,290.9 516.4,292.6C524.7,294.2 532.9,295.3 541.1,296.6C549.4,297.8 559.6,298.9 565.8,300.0C572.0,301.1 574.1,301.3 578.2,303.2C582.4,305.0 586.5,307.8 590.6,311.1C594.7,314.4 599.8,319.2 602.9,323.1C606.1,327.0 606.9,329.5 609.4,334.6C612.0,339.6 615.1,345.9 618.2,353.4C621.4,360.9 625.0,371.1 628.3,379.6C631.7,388.0 634.7,395.8 638.2,404.1C641.7,412.3 645.6,421.2 649.2,429.1C652.9,436.9 656.7,444.9 660.2,451.1C663.7,457.2 666.6,460.8 670.1,465.9C673.6,470.9 676.5,475.8 681.1,481.3C685.7,486.8 691.6,492.8 697.6,498.9C703.6,505.0 710.7,511.6 717.2,517.9C723.8,524.1 730.4,530.2 737.0,536.4C743.6,542.6 751.0,549.6 756.7,555.0C762.5,560.3 765.0,562.8 771.6,568.6C778.2,574.3 788.1,582.9 796.3,589.6C804.6,596.2 812.9,602.6 821.1,608.4C829.4,614.2 837.6,619.1 845.8,624.5C854.1,629.8 862.4,634.9 870.6,640.6C878.9,646.3 887.2,653.2 895.3,658.6C903.5,664.0 912.8,669.1 919.6,673.1C926.4,677.0 930.6,679.3 936.1,682.2C941.6,685.0 947.1,687.7 952.6,690.1C958.1,692.4 963.6,694.5 969.1,696.2C974.6,697.9 980.7,699.3 985.6,700.4C990.5,701.4 992.2,701.4 998.4,702.6C1004.6,703.8 1014.1,706.0 1022.9,707.5C1031.7,708.9 1041.7,710.0 1051.1,711.2C1060.5,712.4 1069.9,713.4 1079.3,714.6C1088.7,715.8 1098.0,717.1 1107.4,718.3C1116.8,719.4 1126.3,720.4 1135.7,721.6C1145.1,722.7 1154.4,723.9 1163.8,725.3C1173.2,726.7 1182.6,728.4 1192.0,730.1C1201.4,731.7 1210.8,733.5 1220.2,735.2C1229.6,736.8 1239.0,738.6 1248.4,740.0C1257.8,741.3 1267.1,742.4 1276.5,743.3C1285.9,744.1 1294.2,744.5 1304.7,745.0C1315.2,745.5 1333.6,746.0 1339.4,746.2M333.1,125.6C334.5,125.6 339.0,125.4 341.6,125.8C344.2,126.1 346.4,126.4 348.6,127.6C350.7,128.7 352.4,130.1 354.6,132.6C356.7,135.1 358.8,138.9 361.6,142.6C364.3,146.3 367.4,149.2 371.1,154.8C374.7,160.3 379.4,168.4 383.5,175.8C387.6,183.2 391.7,192.3 395.8,199.3C399.9,206.3 404.0,212.1 408.2,217.9C412.3,223.7 416.5,229.0 420.6,234.0C424.7,238.9 428.8,243.3 432.9,247.6C437.0,251.9 441.2,256.2 445.3,259.9C449.4,263.6 453.4,267.0 457.6,269.8C461.7,272.6 463.9,274.0 470.1,276.8C476.3,279.6 486.5,283.9 494.8,286.6C503.0,289.2 511.3,290.9 519.6,292.6C527.8,294.2 536.0,295.3 544.3,296.6C552.5,297.8 562.8,298.9 569.0,300.0C575.2,301.1 577.2,301.3 581.4,303.2C585.5,305.0 589.7,307.8 593.8,311.1C597.9,314.4 602.9,319.2 606.1,323.1C609.2,327.0 610.0,329.5 612.6,334.6C615.1,339.6 618.2,345.9 621.4,353.4C624.5,360.9 628.1,371.1 631.5,379.6C634.8,388.0 637.9,395.8 641.4,404.1C644.9,412.3 648.7,421.2 652.4,429.1C656.0,436.9 659.9,444.9 663.4,451.1C666.9,457.2 669.8,460.8 673.3,465.9C676.8,470.9 679.7,475.8 684.3,481.3C688.9,486.8 694.8,492.8 700.8,498.9C706.8,505.0 713.8,511.6 720.4,517.9C726.9,524.1 733.6,530.2 740.2,536.4C746.8,542.6 754.1,549.6 759.9,555.0C765.6,560.3 768.2,562.8 774.8,568.6C781.4,574.3 791.2,582.9 799.5,589.6C807.7,596.2 816.0,602.6 824.3,608.4C832.5,614.2 840.7,619.1 849.0,624.5C857.2,629.8 865.5,634.9 873.8,640.6C882.0,646.3 890.3,653.2 898.5,658.6C906.6,664.0 916.0,669.1 922.8,673.1C929.6,677.0 933.8,679.3 939.3,682.2C944.8,685.0 950.3,687.7 955.8,690.1C961.3,692.4 966.8,694.5 972.3,696.2C977.8,697.9 983.9,699.3 988.8,700.4C993.7,701.4 995.4,701.4 1001.6,702.6C1007.8,703.8 1017.3,706.0 1026.1,707.5C1034.9,708.9 1044.9,710.0 1054.3,711.2C1063.7,712.4 1073.1,713.4 1082.5,714.6C1091.9,715.8 1101.2,717.1 1110.6,718.3C1120.0,719.4 1129.5,720.4 1138.9,721.6C1148.3,722.7 1157.6,723.9 1167.0,725.3C1176.4,726.7 1185.8,728.4 1195.2,730.1C1204.6,731.7 1214.0,733.5 1223.4,735.2C1232.8,736.8 1242.2,738.6 1251.6,740.0C1261.0,741.3 1270.3,742.4 1279.7,743.3C1289.1,744.1 1297.4,744.5 1307.9,745.0C1318.4,745.5 1336.8,746.0 1342.6,746.2" fill="none" stroke="#0000ff" stroke-width="2.86" stroke-linejoin="round" stroke-linecap="square"/>
<line x1="525.4" y1="392.0" x2="587.9" y2="344.6" stroke="#0000ff" stroke-width="6.6"/>
<path d="M607.0,330.1L591.6,359.4L587.9,344.6L574.6,337.1Z" fill="#0000ff" stroke="#0000ff" stroke-width="1.6" stroke-linejoin="round"/>
<line x1="532.8" y1="554.4" x2="571.1" y2="517.8" stroke="#000000" stroke-width="6.6"/>
<path d="M588.5,501.2L576.5,532.0L571.1,517.8L557.1,511.8Z" fill="#000000" stroke="#000000" stroke-width="1.6" stroke-linejoin="round"/>
<line x1="622.3" y1="653.8" x2="708.5" y2="586.5" stroke="#ff0000" stroke-width="6.6"/>
<path d="M727.4,571.7L712.4,601.2L708.5,586.5L695.1,579.1Z" fill="#ff0000" stroke="#ff0000" stroke-width="1.6" stroke-linejoin="round"/>
<text transform="translate(484.90,954.00) scale(1.0562,1)" font-size="86.00" fill="#000">200</text>
<text transform="translate(749.81,954.00) scale(1.0386,1)" font-size="86.00" fill="#000">400</text>
<text transform="translate(1010.40,954.00) scale(1.0554,1)" font-size="86.00" fill="#000">600</text>
<text transform="translate(1273.56,954.00) scale(1.0517,1)" font-size="86.00" fill="#000">800</text>
<text transform="translate(182.77,141.70) scale(1.0612,1)" font-size="86.00" fill="#000">100</text>
<text transform="translate(228.75,322.45) scale(1.0571,1)" font-size="86.00" fill="#000">80</text>
<text transform="translate(228.27,503.20) scale(1.0628,1)" font-size="86.00" fill="#000">60</text>
<text transform="translate(230.42,683.95) scale(1.0369,1)" font-size="86.00" fill="#000">40</text>
<text transform="translate(228.17,864.70) scale(1.0640,1)" font-size="86.00" fill="#000">20</text>
<text transform="translate(0,1033.00) scale(1.1051,1)" font-size="95.00" x="418.80 477.70 520.73 595.49 643.86 686.89 719.40 762.43 789.70 838.06 870.57 911.23 932.03 961.08 996.48 1057.25" xml:space="preserve">Temperature (°C)</text>
<clipPath id="clipYA"><rect x="126.7" y="0" width="200" height="1100"/></clipPath><g clip-path="url(#clipYA)">
<text transform="translate(181.00,0) rotate(-90) scale(1.0701,1)" font-size="86.00" x="-874.76 -794.01 -756.26 -732.79 -690.21 -647.63 -622.37 -605.61 -561.43 -522.08 -492.26 -452.90 -413.55 -369.37 -344.29 -304.94 -260.76 -223.72 -204.70 -180.90 -114.10" xml:space="preserve">Weight percentage (%)</text>
</g>
<text transform="translate(1249.88,141.10) scale(0.9248,0.9152)" font-size="100" fill="#000">A</text>
<text transform="translate(477.54,427.46) scale(0.8587,0.7443)" font-size="100" fill="#000">c</text>
<text transform="translate(482.51,582.64) scale(0.9392,0.7599)" font-size="100" fill="#000">a</text>
<text transform="translate(568.70,679.20) scale(0.8831,0.7997)" font-size="100" fill="#000">b</text>
</g>
<g id="plotB">
<rect x="304.6" y="1270.3" width="1012.1" height="781" fill="none" stroke="#000" stroke-width="5"/>
<line x1="533.0" x2="533.0" y1="2051" y2="2026.2" stroke="#000" stroke-width="5"/>
<line x1="794.6" x2="794.6" y1="2051" y2="2026.2" stroke="#000" stroke-width="5"/>
<line x1="1056.2" x2="1056.2" y1="2051" y2="2026.2" stroke="#000" stroke-width="5"/>
<line x1="401.7" x2="401.7" y1="2051" y2="2037" stroke="#000" stroke-width="5"/>
<line x1="663.3" x2="663.3" y1="2051" y2="2037" stroke="#000" stroke-width="5"/>
<line x1="924.9" x2="924.9" y1="2051" y2="2037" stroke="#000" stroke-width="5"/>
<line x1="1186.5" x2="1186.5" y1="2051" y2="2037" stroke="#000" stroke-width="5"/>
<path d="M305.5,1936.0C305.8,1935.3 306.9,1934.3 307.5,1932.0C308.1,1929.7 308.1,1933.4 309.2,1922.0C310.3,1910.6 312.6,1883.6 314.3,1863.4C316.0,1843.2 317.4,1823.2 319.2,1800.8C320.9,1778.4 323.1,1750.1 324.8,1729.3C326.5,1708.5 328.3,1690.6 329.6,1675.7C330.9,1660.8 331.4,1658.0 332.8,1640.0C334.2,1622.0 336.4,1587.4 337.9,1568.0C339.3,1548.6 340.2,1538.3 341.5,1523.4C342.8,1508.5 344.4,1493.6 345.9,1478.7C347.4,1463.8 348.8,1448.9 350.4,1434.0C352.0,1419.1 354.0,1401.8 355.8,1389.3C357.6,1376.8 359.8,1365.4 361.1,1359.0C362.4,1352.6 362.7,1353.1 363.4,1351.1C364.1,1349.1 364.7,1347.9 365.4,1347.0C366.1,1346.1 366.7,1345.6 367.4,1345.6C368.1,1345.6 368.7,1346.1 369.4,1347.0C370.1,1347.9 370.7,1349.1 371.4,1351.1C372.1,1353.1 372.8,1352.6 373.6,1359.0C374.4,1365.4 375.4,1376.8 376.3,1389.3C377.2,1401.8 378.1,1419.1 379.0,1434.0C379.9,1448.9 380.8,1463.8 381.7,1478.7C382.6,1493.6 383.4,1508.5 384.3,1523.4C385.2,1538.3 386.1,1553.1 387.0,1568.0C387.9,1582.9 388.8,1591.8 389.7,1612.7C390.6,1633.6 391.7,1671.2 392.6,1693.6C393.5,1716.0 394.0,1730.8 395.0,1747.2C396.0,1763.6 397.4,1778.5 398.6,1791.9C399.8,1805.3 400.7,1817.2 402.2,1827.6C403.7,1838.0 405.8,1846.1 407.6,1854.4C409.4,1862.8 410.8,1870.2 412.9,1877.7C415.0,1885.2 417.3,1892.2 420.0,1899.1C422.7,1905.9 425.4,1912.8 429.0,1918.8C432.6,1924.8 437.0,1930.6 441.5,1934.9C446.0,1939.2 450.4,1941.7 455.8,1944.7C461.2,1947.7 467.7,1950.5 473.7,1952.7C479.7,1954.9 485.7,1956.6 491.6,1958.1C497.6,1959.6 504.0,1960.5 509.4,1961.7C514.8,1962.9 520.4,1964.7 523.7,1965.2C527.0,1965.7 527.7,1966.2 529.0,1964.5C530.3,1962.8 530.9,1958.5 531.5,1955.0C532.1,1951.5 531.9,1951.6 532.7,1943.8C533.5,1936.0 535.2,1916.8 536.2,1908.0C537.2,1899.2 538.1,1894.4 539.0,1891.0C539.9,1887.6 540.7,1887.9 541.8,1887.5C542.9,1887.1 544.2,1887.5 545.4,1888.4C546.6,1889.3 547.4,1892.2 548.9,1892.9C550.4,1893.7 552.2,1894.2 554.3,1892.9C556.4,1891.6 559.5,1888.8 561.4,1884.8C563.3,1880.8 564.5,1874.0 565.9,1868.7C567.2,1863.4 568.1,1856.6 569.5,1852.7C570.9,1848.8 572.4,1846.2 574.0,1845.5C575.6,1844.8 577.7,1845.8 579.3,1848.2C580.9,1850.6 582.0,1855.8 583.8,1859.8C585.6,1863.8 587.8,1868.9 590.0,1872.3C592.2,1875.7 594.5,1878.7 597.2,1880.3C599.9,1881.9 603.1,1882.2 606.1,1882.1C609.1,1882.0 612.0,1881.7 615.0,1879.5C618.0,1877.3 621.0,1873.5 624.0,1868.7C627.0,1863.9 630.2,1857.8 632.9,1850.9C635.6,1844.1 637.9,1835.9 640.0,1827.6C642.1,1819.2 643.8,1809.7 645.4,1800.8C647.0,1791.9 648.4,1782.3 649.9,1774.0C651.4,1765.7 652.9,1757.6 654.4,1750.8C655.9,1744.0 657.3,1737.1 658.8,1732.9C660.3,1728.7 661.8,1725.4 663.3,1725.4C664.8,1725.4 666.5,1727.8 667.8,1732.9C669.1,1738.0 670.3,1747.9 671.3,1756.2C672.3,1764.5 673.1,1774.1 674.0,1783.0C674.9,1791.9 675.8,1800.9 676.7,1809.8C677.6,1818.7 678.5,1827.7 679.4,1836.6C680.3,1845.5 681.1,1854.5 682.1,1863.4C683.1,1872.3 684.4,1882.8 685.6,1890.2C686.8,1897.6 687.9,1902.0 689.2,1908.0C690.6,1914.0 692.1,1920.5 693.7,1925.9C695.3,1931.3 696.6,1936.0 699.0,1940.2C701.4,1944.4 704.7,1948.1 708.0,1950.9C711.3,1953.7 714.5,1955.2 718.7,1957.2C722.9,1959.2 728.5,1961.0 733.0,1962.6C737.5,1964.2 740.4,1966.0 745.5,1967.0C750.6,1968.0 757.4,1968.7 763.4,1968.5C769.4,1968.3 775.9,1966.4 781.2,1966.1C786.6,1965.8 790.5,1966.8 795.5,1966.6C800.5,1966.3 805.9,1964.8 811.1,1964.6C816.3,1964.4 822.4,1964.3 826.6,1965.2C830.8,1966.1 833.1,1968.6 836.4,1970.1C839.6,1971.6 841.2,1973.0 846.1,1974.0C851.0,1975.0 859.0,1975.3 865.5,1975.9C872.0,1976.5 878.4,1977.1 884.9,1977.8C891.4,1978.5 898.6,1979.4 904.4,1980.2C910.2,1981.0 915.4,1981.8 919.9,1982.7C924.4,1983.6 927.4,1984.6 931.6,1985.6C935.8,1986.6 939.7,1987.8 945.2,1988.5C950.7,1989.2 958.5,1989.3 964.6,1989.5C970.8,1989.7 977.2,1990.1 982.1,1989.9C987.0,1989.7 988.6,1988.7 993.8,1988.5C999.0,1988.3 1006.1,1988.4 1013.2,1988.5C1020.3,1988.6 1029.2,1988.7 1036.5,1989.1C1043.8,1989.5 1049.3,1990.8 1056.8,1991.1C1064.3,1991.4 1073.9,1991.5 1081.5,1991.1C1089.1,1990.7 1095.7,1990.0 1102.2,1988.5C1108.7,1987.0 1116.2,1983.8 1120.7,1981.9C1125.2,1980.0 1125.9,1978.5 1129.0,1977.3C1132.1,1976.1 1136.2,1975.9 1139.3,1974.6C1142.4,1973.3 1143.4,1971.2 1147.5,1969.5C1151.6,1967.8 1158.8,1965.3 1164.0,1964.3C1169.2,1963.3 1173.3,1963.3 1178.5,1963.7C1183.7,1964.1 1189.8,1965.6 1194.9,1966.4C1200.1,1967.2 1204.9,1967.1 1209.4,1968.5C1213.9,1969.9 1218.4,1973.2 1221.8,1974.6C1225.2,1976.0 1226.9,1975.3 1230.0,1976.7C1233.1,1978.1 1236.5,1980.7 1240.3,1982.9C1244.1,1985.1 1248.6,1987.9 1252.7,1990.1C1256.8,1992.3 1261.0,1994.8 1265.1,1995.9C1269.2,1997.0 1271.9,1996.4 1277.4,1996.7C1282.9,1997.0 1291.4,1997.5 1298.0,1997.9C1304.6,1998.4 1313.8,1999.2 1317.0,1999.4M304.2,1934.7C304.5,1934.0 305.6,1933.0 306.2,1930.7C306.8,1928.4 306.8,1932.1 307.9,1920.7C309.0,1909.3 311.3,1882.3 313.0,1862.1C314.7,1841.9 316.1,1821.8 317.9,1799.5C319.6,1777.1 321.8,1748.8 323.5,1728.0C325.2,1707.1 327.0,1689.3 328.3,1674.4C329.6,1659.5 330.1,1656.6 331.5,1638.7C332.9,1620.7 335.1,1586.1 336.6,1566.7C338.0,1547.3 338.9,1537.0 340.2,1522.1C341.5,1507.2 343.1,1492.3 344.6,1477.4C346.1,1462.5 347.4,1447.6 349.1,1432.7C350.7,1417.8 352.7,1400.5 354.5,1388.0C356.3,1375.5 358.5,1364.1 359.8,1357.7C361.1,1351.3 361.4,1351.8 362.1,1349.8C362.8,1347.8 363.4,1346.6 364.1,1345.7C364.8,1344.8 365.4,1344.3 366.1,1344.3C366.8,1344.3 367.4,1344.8 368.1,1345.7C368.8,1346.6 369.4,1347.8 370.1,1349.8C370.8,1351.8 371.5,1351.3 372.3,1357.7C373.1,1364.1 374.1,1375.5 375.0,1388.0C375.9,1400.5 376.8,1417.8 377.7,1432.7C378.6,1447.6 379.5,1462.5 380.4,1477.4C381.3,1492.3 382.1,1507.2 383.0,1522.1C383.9,1537.0 384.8,1551.8 385.7,1566.7C386.6,1581.6 387.5,1590.5 388.4,1611.4C389.3,1632.3 390.4,1669.9 391.3,1692.3C392.2,1714.7 392.7,1729.5 393.7,1745.9C394.7,1762.3 396.1,1777.2 397.3,1790.6C398.5,1804.0 399.4,1815.9 400.9,1826.3C402.4,1836.7 404.5,1844.7 406.3,1853.1C408.1,1861.4 409.5,1868.9 411.6,1876.4C413.7,1883.8 416.0,1890.9 418.7,1897.8C421.4,1904.6 424.1,1911.5 427.7,1917.5C431.3,1923.5 435.7,1929.3 440.2,1933.6C444.7,1937.9 449.1,1940.4 454.5,1943.4C459.9,1946.4 466.4,1949.2 472.4,1951.4C478.4,1953.6 484.3,1955.3 490.3,1956.8C496.2,1958.3 502.7,1959.2 508.1,1960.4C513.4,1961.6 519.1,1963.4 522.4,1963.9C525.7,1964.4 526.4,1964.9 527.7,1963.2C529.0,1961.5 529.6,1957.1 530.2,1953.7C530.8,1950.2 530.6,1950.3 531.4,1942.5C532.2,1934.7 533.8,1915.5 534.9,1906.7C535.9,1897.9 536.8,1893.1 537.7,1889.7C538.6,1886.3 539.4,1886.6 540.5,1886.2C541.6,1885.8 542.9,1886.2 544.1,1887.1C545.3,1888.0 546.1,1890.8 547.6,1891.6C549.1,1892.3 550.9,1892.9 553.0,1891.6C555.1,1890.2 558.2,1887.5 560.1,1883.5C562.0,1879.5 563.2,1872.7 564.6,1867.4C565.9,1862.0 566.8,1855.3 568.2,1851.4C569.5,1847.5 571.1,1844.9 572.7,1844.2C574.3,1843.4 576.4,1844.5 578.0,1846.9C579.6,1849.3 580.7,1854.5 582.5,1858.5C584.3,1862.5 586.5,1867.6 588.7,1871.0C590.9,1874.4 593.2,1877.4 595.9,1879.0C598.6,1880.6 601.8,1880.9 604.8,1880.8C607.8,1880.7 610.7,1880.4 613.7,1878.2C616.7,1876.0 619.7,1872.2 622.7,1867.4C625.7,1862.6 628.9,1856.4 631.6,1849.6C634.3,1842.7 636.6,1834.6 638.7,1826.3C640.8,1817.9 642.4,1808.4 644.1,1799.5C645.7,1790.6 647.1,1781.0 648.6,1772.7C650.1,1764.4 651.6,1756.3 653.1,1749.5C654.6,1742.6 656.0,1735.8 657.5,1731.6C659.0,1727.4 660.5,1724.1 662.0,1724.1C663.5,1724.1 665.2,1726.5 666.5,1731.6C667.8,1736.7 669.0,1746.5 670.0,1754.9C671.0,1763.2 671.8,1772.8 672.7,1781.7C673.6,1790.6 674.5,1799.6 675.4,1808.5C676.3,1817.4 677.2,1826.4 678.1,1835.3C679.0,1844.2 679.8,1853.2 680.8,1862.1C681.8,1871.0 683.1,1881.5 684.3,1888.9C685.5,1896.3 686.5,1900.7 687.9,1906.7C689.2,1912.6 690.8,1919.2 692.4,1924.6C694.0,1930.0 695.3,1934.7 697.7,1938.9C700.1,1943.1 703.4,1946.8 706.7,1949.6C710.0,1952.4 713.2,1953.9 717.4,1955.9C721.6,1957.8 727.2,1959.7 731.7,1961.3C736.2,1962.9 739.1,1964.7 744.2,1965.7C749.3,1966.7 756.1,1967.3 762.1,1967.2C768.0,1967.0 774.5,1965.1 779.9,1964.8C785.2,1964.5 789.2,1965.5 794.2,1965.3C799.2,1965.0 804.6,1963.5 809.8,1963.3C815.0,1963.1 821.1,1963.0 825.3,1963.9C829.5,1964.8 831.8,1967.3 835.1,1968.8C838.3,1970.3 839.9,1971.7 844.8,1972.7C849.6,1973.7 857.7,1974.0 864.2,1974.6C870.7,1975.2 877.1,1975.8 883.6,1976.5C890.1,1977.2 897.3,1978.1 903.1,1978.9C908.9,1979.7 914.1,1980.5 918.6,1981.4C923.1,1982.3 926.1,1983.3 930.3,1984.3C934.5,1985.3 938.4,1986.5 943.9,1987.2C949.4,1987.8 957.1,1988.0 963.3,1988.2C969.4,1988.4 975.9,1988.8 980.8,1988.6C985.7,1988.4 987.3,1987.4 992.5,1987.2C997.7,1987.0 1004.8,1987.1 1011.9,1987.2C1019.0,1987.3 1027.9,1987.4 1035.2,1987.8C1042.5,1988.2 1048.0,1989.5 1055.5,1989.8C1063.0,1990.1 1072.6,1990.2 1080.2,1989.8C1087.8,1989.4 1094.4,1988.7 1100.9,1987.2C1107.4,1985.7 1114.9,1982.5 1119.4,1980.6C1123.9,1978.7 1124.6,1977.2 1127.7,1976.0C1130.8,1974.8 1134.9,1974.6 1138.0,1973.3C1141.1,1972.0 1142.1,1969.9 1146.2,1968.2C1150.3,1966.5 1157.5,1964.0 1162.7,1963.0C1167.9,1962.0 1172.0,1962.0 1177.2,1962.4C1182.3,1962.7 1188.4,1964.3 1193.6,1965.1C1198.7,1965.9 1203.6,1965.8 1208.1,1967.2C1212.6,1968.6 1217.1,1971.9 1220.5,1973.3C1223.9,1974.7 1225.6,1974.0 1228.7,1975.4C1231.8,1976.8 1235.2,1979.4 1239.0,1981.6C1242.8,1983.8 1247.3,1986.6 1251.4,1988.8C1255.5,1991.0 1259.7,1993.5 1263.8,1994.6C1267.9,1995.7 1270.6,1995.1 1276.1,1995.4C1281.6,1995.7 1290.1,1996.1 1296.7,1996.6C1303.3,1997.0 1312.5,1997.8 1315.7,1998.1M306.8,1934.7C307.1,1934.0 308.2,1933.0 308.8,1930.7C309.4,1928.4 309.4,1932.1 310.5,1920.7C311.6,1909.3 313.9,1882.3 315.6,1862.1C317.3,1841.9 318.8,1821.8 320.5,1799.5C322.3,1777.1 324.4,1748.8 326.1,1728.0C327.8,1707.1 329.6,1689.3 330.9,1674.4C332.2,1659.5 332.7,1656.6 334.1,1638.7C335.5,1620.7 337.8,1586.1 339.2,1566.7C340.7,1547.3 341.5,1537.0 342.8,1522.1C344.1,1507.2 345.7,1492.3 347.2,1477.4C348.7,1462.5 350.1,1447.6 351.7,1432.7C353.4,1417.8 355.3,1400.5 357.1,1388.0C358.9,1375.5 361.1,1364.1 362.4,1357.7C363.7,1351.3 364.0,1351.8 364.7,1349.8C365.4,1347.8 366.0,1346.6 366.7,1345.7C367.4,1344.8 368.0,1344.3 368.7,1344.3C369.4,1344.3 370.0,1344.8 370.7,1345.7C371.4,1346.6 372.0,1347.8 372.7,1349.8C373.4,1351.8 374.1,1351.3 374.9,1357.7C375.7,1364.1 376.7,1375.5 377.6,1388.0C378.5,1400.5 379.4,1417.8 380.3,1432.7C381.2,1447.6 382.1,1462.5 383.0,1477.4C383.9,1492.3 384.7,1507.2 385.6,1522.1C386.5,1537.0 387.4,1551.8 388.3,1566.7C389.2,1581.6 390.1,1590.5 391.0,1611.4C391.9,1632.3 393.0,1669.9 393.9,1692.3C394.8,1714.7 395.3,1729.5 396.3,1745.9C397.3,1762.3 398.7,1777.2 399.9,1790.6C401.1,1804.0 402.0,1815.9 403.5,1826.3C405.0,1836.7 407.1,1844.7 408.9,1853.1C410.7,1861.4 412.1,1868.9 414.2,1876.4C416.3,1883.8 418.6,1890.9 421.3,1897.8C424.0,1904.6 426.7,1911.5 430.3,1917.5C433.9,1923.5 438.3,1929.3 442.8,1933.6C447.3,1937.9 451.7,1940.4 457.1,1943.4C462.5,1946.4 469.0,1949.2 475.0,1951.4C481.0,1953.6 487.0,1955.3 492.9,1956.8C498.9,1958.3 505.4,1959.2 510.7,1960.4C516.1,1961.6 521.7,1963.4 525.0,1963.9C528.3,1964.4 529.0,1964.9 530.3,1963.2C531.6,1961.5 532.2,1957.1 532.8,1953.7C533.4,1950.2 533.2,1950.3 534.0,1942.5C534.8,1934.7 536.5,1915.5 537.5,1906.7C538.6,1897.9 539.4,1893.1 540.3,1889.7C541.2,1886.3 542.0,1886.6 543.1,1886.2C544.2,1885.8 545.5,1886.2 546.7,1887.1C547.9,1888.0 548.7,1890.8 550.2,1891.6C551.7,1892.3 553.5,1892.9 555.6,1891.6C557.7,1890.2 560.8,1887.5 562.7,1883.5C564.6,1879.5 565.9,1872.7 567.2,1867.4C568.6,1862.0 569.5,1855.3 570.8,1851.4C572.2,1847.5 573.7,1844.9 575.3,1844.2C576.9,1843.4 579.0,1844.5 580.6,1846.9C582.2,1849.3 583.3,1854.5 585.1,1858.5C586.9,1862.5 589.1,1867.6 591.3,1871.0C593.5,1874.4 595.8,1877.4 598.5,1879.0C601.2,1880.6 604.4,1880.9 607.4,1880.8C610.4,1880.7 613.3,1880.4 616.3,1878.2C619.3,1876.0 622.3,1872.2 625.3,1867.4C628.3,1862.6 631.5,1856.4 634.2,1849.6C636.9,1842.7 639.2,1834.6 641.3,1826.3C643.4,1817.9 645.1,1808.4 646.7,1799.5C648.4,1790.6 649.7,1781.0 651.2,1772.7C652.7,1764.4 654.2,1756.3 655.7,1749.5C657.2,1742.6 658.6,1735.8 660.1,1731.6C661.6,1727.4 663.1,1724.1 664.6,1724.1C666.1,1724.1 667.8,1726.5 669.1,1731.6C670.4,1736.7 671.6,1746.5 672.6,1754.9C673.6,1763.2 674.4,1772.8 675.3,1781.7C676.2,1790.6 677.1,1799.6 678.0,1808.5C678.9,1817.4 679.8,1826.4 680.7,1835.3C681.6,1844.2 682.4,1853.2 683.4,1862.1C684.4,1871.0 685.7,1881.5 686.9,1888.9C688.1,1896.3 689.2,1900.7 690.5,1906.7C691.9,1912.6 693.4,1919.2 695.0,1924.6C696.6,1930.0 697.9,1934.7 700.3,1938.9C702.7,1943.1 706.0,1946.8 709.3,1949.6C712.6,1952.4 715.8,1953.9 720.0,1955.9C724.2,1957.8 729.8,1959.7 734.3,1961.3C738.8,1962.9 741.7,1964.7 746.8,1965.7C751.9,1966.7 758.8,1967.3 764.7,1967.2C770.7,1967.0 777.2,1965.1 782.5,1964.8C787.9,1964.5 791.8,1965.5 796.8,1965.3C801.8,1965.0 807.2,1963.5 812.4,1963.3C817.6,1963.1 823.7,1963.0 827.9,1963.9C832.1,1964.8 834.5,1967.3 837.7,1968.8C841.0,1970.3 842.6,1971.7 847.4,1972.7C852.3,1973.7 860.3,1974.0 866.8,1974.6C873.3,1975.2 879.7,1975.8 886.2,1976.5C892.7,1977.2 899.9,1978.1 905.7,1978.9C911.5,1979.7 916.7,1980.5 921.2,1981.4C925.7,1982.3 928.7,1983.3 932.9,1984.3C937.1,1985.3 941.0,1986.5 946.5,1987.2C952.0,1987.8 959.8,1988.0 965.9,1988.2C972.1,1988.4 978.5,1988.8 983.4,1988.6C988.3,1988.4 989.9,1987.4 995.1,1987.2C1000.3,1987.0 1007.4,1987.1 1014.5,1987.2C1021.6,1987.3 1030.5,1987.4 1037.8,1987.8C1045.1,1988.2 1050.6,1989.5 1058.1,1989.8C1065.6,1990.1 1075.2,1990.2 1082.8,1989.8C1090.4,1989.4 1097.0,1988.7 1103.5,1987.2C1110.0,1985.7 1117.5,1982.5 1122.0,1980.6C1126.5,1978.7 1127.2,1977.2 1130.3,1976.0C1133.4,1974.8 1137.5,1974.6 1140.6,1973.3C1143.7,1972.0 1144.7,1969.9 1148.8,1968.2C1152.9,1966.5 1160.1,1964.0 1165.3,1963.0C1170.5,1962.0 1174.7,1962.0 1179.8,1962.4C1185.0,1962.7 1191.1,1964.3 1196.2,1965.1C1201.4,1965.9 1206.2,1965.8 1210.7,1967.2C1215.2,1968.6 1219.7,1971.9 1223.1,1973.3C1226.5,1974.7 1228.2,1974.0 1231.3,1975.4C1234.4,1976.8 1237.8,1979.4 1241.6,1981.6C1245.4,1983.8 1249.9,1986.6 1254.0,1988.8C1258.1,1991.0 1262.3,1993.5 1266.4,1994.6C1270.5,1995.7 1273.2,1995.1 1278.7,1995.4C1284.2,1995.7 1292.7,1996.1 1299.3,1996.6C1305.9,1997.0 1315.1,1997.8 1318.3,1998.1M304.2,1937.3C304.5,1936.6 305.6,1935.6 306.2,1933.3C306.8,1931.0 306.8,1934.7 307.9,1923.3C309.0,1911.9 311.3,1884.9 313.0,1864.7C314.7,1844.5 316.1,1824.5 317.9,1802.1C319.6,1779.8 321.8,1751.5 323.5,1730.6C325.2,1709.8 327.0,1691.9 328.3,1677.0C329.6,1662.1 330.1,1659.3 331.5,1641.3C332.9,1623.4 335.1,1588.7 336.6,1569.3C338.0,1549.9 338.9,1539.6 340.2,1524.7C341.5,1509.8 343.1,1494.9 344.6,1480.0C346.1,1465.1 347.4,1450.2 349.1,1435.3C350.7,1420.4 352.7,1403.1 354.5,1390.6C356.3,1378.1 358.5,1366.7 359.8,1360.3C361.1,1353.9 361.4,1354.4 362.1,1352.4C362.8,1350.4 363.4,1349.2 364.1,1348.3C364.8,1347.4 365.4,1346.9 366.1,1346.9C366.8,1346.9 367.4,1347.4 368.1,1348.3C368.8,1349.2 369.4,1350.4 370.1,1352.4C370.8,1354.4 371.5,1353.9 372.3,1360.3C373.1,1366.7 374.1,1378.1 375.0,1390.6C375.9,1403.1 376.8,1420.4 377.7,1435.3C378.6,1450.2 379.5,1465.1 380.4,1480.0C381.3,1494.9 382.1,1509.8 383.0,1524.7C383.9,1539.6 384.8,1554.4 385.7,1569.3C386.6,1584.2 387.5,1593.1 388.4,1614.0C389.3,1634.9 390.4,1672.5 391.3,1694.9C392.2,1717.3 392.7,1732.1 393.7,1748.5C394.7,1764.9 396.1,1779.8 397.3,1793.2C398.5,1806.6 399.4,1818.5 400.9,1828.9C402.4,1839.3 404.5,1847.4 406.3,1855.7C408.1,1864.1 409.5,1871.6 411.6,1879.0C413.7,1886.5 416.0,1893.6 418.7,1900.4C421.4,1907.3 424.1,1914.1 427.7,1920.1C431.3,1926.1 435.7,1931.9 440.2,1936.2C444.7,1940.5 449.1,1943.0 454.5,1946.0C459.9,1949.0 466.4,1951.8 472.4,1954.0C478.4,1956.2 484.3,1957.9 490.3,1959.4C496.2,1960.9 502.7,1961.8 508.1,1963.0C513.4,1964.2 519.1,1966.0 522.4,1966.5C525.7,1967.0 526.4,1967.5 527.7,1965.8C529.0,1964.1 529.6,1959.8 530.2,1956.3C530.8,1952.9 530.6,1952.9 531.4,1945.1C532.2,1937.3 533.8,1918.1 534.9,1909.3C535.9,1900.5 536.8,1895.7 537.7,1892.3C538.6,1888.9 539.4,1889.2 540.5,1888.8C541.6,1888.4 542.9,1888.8 544.1,1889.7C545.3,1890.6 546.1,1893.5 547.6,1894.2C549.1,1895.0 550.9,1895.6 553.0,1894.2C555.1,1892.9 558.2,1890.1 560.1,1886.1C562.0,1882.1 563.2,1875.4 564.6,1870.0C565.9,1864.7 566.8,1857.9 568.2,1854.0C569.5,1850.1 571.1,1847.6 572.7,1846.8C574.3,1846.1 576.4,1847.1 578.0,1849.5C579.6,1851.9 580.7,1857.1 582.5,1861.1C584.3,1865.1 586.5,1870.2 588.7,1873.6C590.9,1877.0 593.2,1880.0 595.9,1881.6C598.6,1883.2 601.8,1883.5 604.8,1883.4C607.8,1883.3 610.7,1883.0 613.7,1880.8C616.7,1878.6 619.7,1874.8 622.7,1870.0C625.7,1865.2 628.9,1859.1 631.6,1852.2C634.3,1845.4 636.6,1837.3 638.7,1828.9C640.8,1820.6 642.4,1811.0 644.1,1802.1C645.7,1793.2 647.1,1783.6 648.6,1775.3C650.1,1767.0 651.6,1759.0 653.1,1752.1C654.6,1745.3 656.0,1738.4 657.5,1734.2C659.0,1730.0 660.5,1726.7 662.0,1726.7C663.5,1726.7 665.2,1729.1 666.5,1734.2C667.8,1739.3 669.0,1749.2 670.0,1757.5C671.0,1765.9 671.8,1775.4 672.7,1784.3C673.6,1793.2 674.5,1802.2 675.4,1811.1C676.3,1820.0 677.2,1829.0 678.1,1837.9C679.0,1846.8 679.8,1855.8 680.8,1864.7C681.8,1873.6 683.1,1884.1 684.3,1891.5C685.5,1898.9 686.5,1903.4 687.9,1909.3C689.2,1915.3 690.8,1921.8 692.4,1927.2C694.0,1932.6 695.3,1937.3 697.7,1941.5C700.1,1945.7 703.4,1949.4 706.7,1952.2C710.0,1955.0 713.2,1956.6 717.4,1958.5C721.6,1960.5 727.2,1962.3 731.7,1963.9C736.2,1965.5 739.1,1967.3 744.2,1968.3C749.3,1969.3 756.1,1970.0 762.1,1969.8C768.0,1969.7 774.5,1967.7 779.9,1967.4C785.2,1967.1 789.2,1968.2 794.2,1967.9C799.2,1967.7 804.6,1966.1 809.8,1965.9C815.0,1965.7 821.1,1965.6 825.3,1966.5C829.5,1967.4 831.8,1969.9 835.1,1971.4C838.3,1972.9 839.9,1974.3 844.8,1975.3C849.6,1976.3 857.7,1976.6 864.2,1977.2C870.7,1977.8 877.1,1978.4 883.6,1979.1C890.1,1979.8 897.3,1980.7 903.1,1981.5C908.9,1982.3 914.1,1983.1 918.6,1984.0C923.1,1984.9 926.1,1985.9 930.3,1986.9C934.5,1987.9 938.4,1989.2 943.9,1989.8C949.4,1990.5 957.1,1990.6 963.3,1990.8C969.4,1991.0 975.9,1991.4 980.8,1991.2C985.7,1991.0 987.3,1990.0 992.5,1989.8C997.7,1989.6 1004.8,1989.7 1011.9,1989.8C1019.0,1989.9 1027.9,1990.0 1035.2,1990.4C1042.5,1990.8 1048.0,1992.1 1055.5,1992.4C1063.0,1992.7 1072.6,1992.8 1080.2,1992.4C1087.8,1992.0 1094.4,1991.3 1100.9,1989.8C1107.4,1988.3 1114.9,1985.1 1119.4,1983.2C1123.9,1981.3 1124.6,1979.8 1127.7,1978.6C1130.8,1977.4 1134.9,1977.2 1138.0,1975.9C1141.1,1974.6 1142.1,1972.5 1146.2,1970.8C1150.3,1969.1 1157.5,1966.6 1162.7,1965.6C1167.9,1964.6 1172.0,1964.7 1177.2,1965.0C1182.3,1965.4 1188.4,1966.9 1193.6,1967.7C1198.7,1968.5 1203.6,1968.4 1208.1,1969.8C1212.6,1971.2 1217.1,1974.5 1220.5,1975.9C1223.9,1977.3 1225.6,1976.6 1228.7,1978.0C1231.8,1979.4 1235.2,1982.0 1239.0,1984.2C1242.8,1986.4 1247.3,1989.2 1251.4,1991.4C1255.5,1993.6 1259.7,1996.1 1263.8,1997.2C1267.9,1998.3 1270.6,1997.7 1276.1,1998.0C1281.6,1998.3 1290.1,1998.8 1296.7,1999.2C1303.3,1999.7 1312.5,2000.5 1315.7,2000.7M306.8,1937.3C307.1,1936.6 308.2,1935.6 308.8,1933.3C309.4,1931.0 309.4,1934.7 310.5,1923.3C311.6,1911.9 313.9,1884.9 315.6,1864.7C317.3,1844.5 318.8,1824.5 320.5,1802.1C322.3,1779.8 324.4,1751.5 326.1,1730.6C327.8,1709.8 329.6,1691.9 330.9,1677.0C332.2,1662.1 332.7,1659.3 334.1,1641.3C335.5,1623.4 337.8,1588.7 339.2,1569.3C340.7,1549.9 341.5,1539.6 342.8,1524.7C344.1,1509.8 345.7,1494.9 347.2,1480.0C348.7,1465.1 350.1,1450.2 351.7,1435.3C353.4,1420.4 355.3,1403.1 357.1,1390.6C358.9,1378.1 361.1,1366.7 362.4,1360.3C363.7,1353.9 364.0,1354.4 364.7,1352.4C365.4,1350.4 366.0,1349.2 366.7,1348.3C367.4,1347.4 368.0,1346.9 368.7,1346.9C369.4,1346.9 370.0,1347.4 370.7,1348.3C371.4,1349.2 372.0,1350.4 372.7,1352.4C373.4,1354.4 374.1,1353.9 374.9,1360.3C375.7,1366.7 376.7,1378.1 377.6,1390.6C378.5,1403.1 379.4,1420.4 380.3,1435.3C381.2,1450.2 382.1,1465.1 383.0,1480.0C383.9,1494.9 384.7,1509.8 385.6,1524.7C386.5,1539.6 387.4,1554.4 388.3,1569.3C389.2,1584.2 390.1,1593.1 391.0,1614.0C391.9,1634.9 393.0,1672.5 393.9,1694.9C394.8,1717.3 395.3,1732.1 396.3,1748.5C397.3,1764.9 398.7,1779.8 399.9,1793.2C401.1,1806.6 402.0,1818.5 403.5,1828.9C405.0,1839.3 407.1,1847.4 408.9,1855.7C410.7,1864.1 412.1,1871.6 414.2,1879.0C416.3,1886.5 418.6,1893.6 421.3,1900.4C424.0,1907.3 426.7,1914.1 430.3,1920.1C433.9,1926.1 438.3,1931.9 442.8,1936.2C447.3,1940.5 451.7,1943.0 457.1,1946.0C462.5,1949.0 469.0,1951.8 475.0,1954.0C481.0,1956.2 487.0,1957.9 492.9,1959.4C498.9,1960.9 505.4,1961.8 510.7,1963.0C516.1,1964.2 521.7,1966.0 525.0,1966.5C528.3,1967.0 529.0,1967.5 530.3,1965.8C531.6,1964.1 532.2,1959.8 532.8,1956.3C533.4,1952.9 533.2,1952.9 534.0,1945.1C534.8,1937.3 536.5,1918.1 537.5,1909.3C538.6,1900.5 539.4,1895.7 540.3,1892.3C541.2,1888.9 542.0,1889.2 543.1,1888.8C544.2,1888.4 545.5,1888.8 546.7,1889.7C547.9,1890.6 548.7,1893.5 550.2,1894.2C551.7,1895.0 553.5,1895.6 555.6,1894.2C557.7,1892.9 560.8,1890.1 562.7,1886.1C564.6,1882.1 565.9,1875.4 567.2,1870.0C568.6,1864.7 569.5,1857.9 570.8,1854.0C572.2,1850.1 573.7,1847.6 575.3,1846.8C576.9,1846.1 579.0,1847.1 580.6,1849.5C582.2,1851.9 583.3,1857.1 585.1,1861.1C586.9,1865.1 589.1,1870.2 591.3,1873.6C593.5,1877.0 595.8,1880.0 598.5,1881.6C601.2,1883.2 604.4,1883.5 607.4,1883.4C610.4,1883.3 613.3,1883.0 616.3,1880.8C619.3,1878.6 622.3,1874.8 625.3,1870.0C628.3,1865.2 631.5,1859.1 634.2,1852.2C636.9,1845.4 639.2,1837.3 641.3,1828.9C643.4,1820.6 645.1,1811.0 646.7,1802.1C648.4,1793.2 649.7,1783.6 651.2,1775.3C652.7,1767.0 654.2,1759.0 655.7,1752.1C657.2,1745.3 658.6,1738.4 660.1,1734.2C661.6,1730.0 663.1,1726.7 664.6,1726.7C666.1,1726.7 667.8,1729.1 669.1,1734.2C670.4,1739.3 671.6,1749.2 672.6,1757.5C673.6,1765.9 674.4,1775.4 675.3,1784.3C676.2,1793.2 677.1,1802.2 678.0,1811.1C678.9,1820.0 679.8,1829.0 680.7,1837.9C681.6,1846.8 682.4,1855.8 683.4,1864.7C684.4,1873.6 685.7,1884.1 686.9,1891.5C688.1,1898.9 689.2,1903.4 690.5,1909.3C691.9,1915.3 693.4,1921.8 695.0,1927.2C696.6,1932.6 697.9,1937.3 700.3,1941.5C702.7,1945.7 706.0,1949.4 709.3,1952.2C712.6,1955.0 715.8,1956.6 720.0,1958.5C724.2,1960.5 729.8,1962.3 734.3,1963.9C738.8,1965.5 741.7,1967.3 746.8,1968.3C751.9,1969.3 758.8,1970.0 764.7,1969.8C770.7,1969.7 777.2,1967.7 782.5,1967.4C787.9,1967.1 791.8,1968.2 796.8,1967.9C801.8,1967.7 807.2,1966.1 812.4,1965.9C817.6,1965.7 823.7,1965.6 827.9,1966.5C832.1,1967.4 834.5,1969.9 837.7,1971.4C841.0,1972.9 842.6,1974.3 847.4,1975.3C852.3,1976.3 860.3,1976.6 866.8,1977.2C873.3,1977.8 879.7,1978.4 886.2,1979.1C892.7,1979.8 899.9,1980.7 905.7,1981.5C911.5,1982.3 916.7,1983.1 921.2,1984.0C925.7,1984.9 928.7,1985.9 932.9,1986.9C937.1,1987.9 941.0,1989.2 946.5,1989.8C952.0,1990.5 959.8,1990.6 965.9,1990.8C972.1,1991.0 978.5,1991.4 983.4,1991.2C988.3,1991.0 989.9,1990.0 995.1,1989.8C1000.3,1989.6 1007.4,1989.7 1014.5,1989.8C1021.6,1989.9 1030.5,1990.0 1037.8,1990.4C1045.1,1990.8 1050.6,1992.1 1058.1,1992.4C1065.6,1992.7 1075.2,1992.8 1082.8,1992.4C1090.4,1992.0 1097.0,1991.3 1103.5,1989.8C1110.0,1988.3 1117.5,1985.1 1122.0,1983.2C1126.5,1981.3 1127.2,1979.8 1130.3,1978.6C1133.4,1977.4 1137.5,1977.2 1140.6,1975.9C1143.7,1974.6 1144.7,1972.5 1148.8,1970.8C1152.9,1969.1 1160.1,1966.6 1165.3,1965.6C1170.5,1964.6 1174.7,1964.7 1179.8,1965.0C1185.0,1965.4 1191.1,1966.9 1196.2,1967.7C1201.4,1968.5 1206.2,1968.4 1210.7,1969.8C1215.2,1971.2 1219.7,1974.5 1223.1,1975.9C1226.5,1977.3 1228.2,1976.6 1231.3,1978.0C1234.4,1979.4 1237.8,1982.0 1241.6,1984.2C1245.4,1986.4 1249.9,1989.2 1254.0,1991.4C1258.1,1993.6 1262.3,1996.1 1266.4,1997.2C1270.5,1998.3 1273.2,1997.7 1278.7,1998.0C1284.2,1998.3 1292.7,1998.8 1299.3,1999.2C1305.9,1999.7 1315.1,2000.5 1318.3,2000.7" fill="none" stroke="#000000" stroke-width="2.38" stroke-linejoin="round" stroke-linecap="square"/>
<path d="M304.8,1988.5C305.9,1988.7 309.6,1992.4 311.1,1989.4C312.6,1986.4 313.1,1978.2 313.8,1970.6C314.6,1963.0 314.7,1951.2 315.6,1943.8C316.5,1936.3 318.1,1930.1 319.1,1925.9C320.1,1921.7 320.2,1920.4 321.8,1918.8C323.4,1917.2 326.9,1918.2 329.0,1916.1C331.1,1914.0 332.5,1909.1 334.3,1906.3C336.1,1903.5 337.3,1900.4 339.7,1899.1C342.1,1897.8 345.6,1898.2 348.6,1898.2C351.6,1898.2 355.0,1899.5 357.5,1899.1C360.0,1898.7 362.0,1895.9 363.8,1895.9C365.6,1895.9 366.7,1897.7 368.3,1899.1C369.9,1900.5 371.7,1904.2 373.6,1904.5C375.5,1904.8 377.8,1901.4 379.9,1900.9C382.0,1900.5 383.6,1900.8 386.1,1901.8C388.6,1902.8 390.8,1905.9 395.0,1907.2C399.2,1908.5 407.0,1908.8 411.2,1909.8C415.4,1910.8 416.4,1912.7 420.0,1913.4C423.6,1914.2 428.7,1913.5 432.6,1914.3C436.5,1915.0 439.4,1917.0 443.3,1917.9C447.2,1918.8 451.3,1918.4 455.8,1919.7C460.3,1921.0 465.3,1924.1 470.1,1925.9C474.9,1927.7 479.9,1928.6 484.4,1930.4C488.9,1932.2 493.0,1934.4 496.9,1936.6C500.8,1938.8 503.8,1941.7 507.7,1943.8C511.6,1945.9 516.0,1947.7 520.2,1949.2C524.4,1950.7 528.2,1952.1 532.7,1952.7C537.2,1953.3 543.5,1953.7 547.1,1952.7C550.7,1951.7 552.2,1947.4 554.3,1946.5C556.4,1945.6 557.9,1946.5 559.7,1947.4C561.5,1948.3 562.9,1951.1 565.0,1951.8C567.1,1952.5 569.8,1953.1 572.2,1951.8C574.6,1950.5 576.3,1946.9 579.3,1943.8C582.3,1940.7 586.7,1937.6 590.0,1933.1C593.3,1928.6 596.0,1923.3 599.0,1917.0C602.0,1910.7 605.2,1903.0 607.9,1895.5C610.6,1888.0 612.6,1880.6 615.0,1872.3C617.4,1864.0 620.1,1853.8 622.2,1845.5C624.3,1837.2 625.8,1830.6 627.6,1822.3C629.4,1814.0 631.3,1805.0 632.9,1795.5C634.5,1786.0 636.0,1774.6 637.4,1765.1C638.8,1755.6 640.0,1747.2 641.0,1738.3C642.0,1729.4 642.7,1720.4 643.6,1711.5C644.5,1702.6 645.2,1693.6 646.3,1684.7C647.3,1675.8 648.8,1665.4 649.9,1657.9C651.0,1650.5 651.9,1647.7 652.6,1640.0C653.4,1632.3 653.2,1620.9 654.4,1611.7C655.6,1602.5 658.1,1593.9 659.7,1584.9C661.3,1576.0 662.9,1566.0 664.2,1558.0C665.6,1550.0 666.9,1541.2 667.8,1536.6C668.7,1532.0 668.4,1530.9 669.6,1530.4C670.8,1530.0 673.6,1535.2 674.9,1533.9C676.2,1532.6 676.7,1530.2 677.6,1522.3C678.5,1514.4 679.5,1498.5 680.3,1486.6C681.0,1474.7 681.2,1462.7 682.1,1450.8C683.0,1438.9 684.4,1427.0 685.6,1415.1C686.8,1403.2 688.2,1389.7 689.2,1379.3C690.2,1368.9 691.1,1361.4 691.9,1352.5C692.6,1343.6 692.9,1332.8 693.7,1325.7C694.5,1318.6 695.5,1309.7 696.7,1309.7C697.9,1309.7 699.7,1317.1 700.8,1325.7C701.9,1334.3 702.5,1348.1 703.5,1361.5C704.5,1374.9 705.9,1391.3 707.1,1406.2C708.3,1421.1 709.4,1435.9 710.7,1450.8C712.0,1465.7 713.8,1480.6 715.1,1495.5C716.4,1510.4 717.7,1526.8 718.7,1540.2C719.8,1553.6 720.5,1564.0 721.4,1575.9C722.3,1587.8 723.2,1599.4 724.1,1611.7C725.0,1624.0 726.0,1640.8 726.7,1650.0C727.4,1659.2 727.5,1658.0 728.5,1666.8C729.5,1675.5 731.4,1691.2 733.0,1702.5C734.6,1713.8 736.3,1725.2 738.4,1734.7C740.5,1744.2 743.1,1751.1 745.5,1759.7C747.9,1768.3 750.0,1777.6 752.7,1786.5C755.4,1795.4 758.3,1805.2 761.6,1813.3C764.9,1821.3 767.6,1827.1 772.3,1834.8C777.0,1842.5 785.2,1852.9 789.7,1859.3C794.2,1865.7 796.1,1868.9 799.4,1872.9C802.6,1877.0 806.0,1880.4 809.2,1883.6C812.5,1886.8 815.4,1889.7 818.9,1892.3C822.4,1894.9 826.6,1896.5 830.5,1899.1C834.4,1901.7 839.0,1905.2 842.2,1907.9C845.5,1910.7 847.4,1912.7 850.0,1915.6C852.6,1918.5 854.8,1922.3 857.7,1925.4C860.6,1928.5 864.2,1931.7 867.5,1934.1C870.8,1936.5 874.6,1938.6 877.2,1939.9C879.8,1941.2 881.1,1940.6 883.0,1941.9C884.9,1943.2 885.9,1945.8 888.8,1947.7C891.7,1949.6 896.9,1951.4 900.5,1953.5C904.1,1955.6 907.3,1959.0 910.2,1960.3C913.1,1961.6 915.1,1960.2 918.0,1961.3C920.9,1962.4 924.5,1965.6 927.7,1967.1C930.9,1968.6 934.2,1969.4 937.4,1970.1C940.6,1970.8 943.5,1970.0 947.1,1971.0C950.7,1972.0 954.9,1974.8 958.8,1975.9C962.7,1977.0 966.6,1977.0 970.5,1977.8C974.4,1978.6 978.2,1980.2 982.1,1980.8C986.0,1981.3 988.6,1980.9 993.8,1981.1C999.0,1981.3 1007.2,1982.0 1013.2,1982.1C1019.2,1982.2 1025.5,1981.4 1030.0,1981.9C1034.5,1982.4 1033.4,1984.1 1040.3,1984.9C1047.2,1985.8 1060.9,1986.7 1071.2,1987.0C1081.5,1987.3 1094.6,1986.7 1102.2,1987.0C1109.8,1987.3 1111.4,1988.8 1116.6,1989.1C1121.8,1989.4 1126.9,1988.9 1133.1,1989.1C1139.3,1989.3 1146.8,1989.6 1153.7,1990.1C1160.6,1990.5 1167.4,1991.4 1174.3,1991.8C1181.2,1992.2 1190.1,1991.9 1194.9,1992.6C1199.7,1993.3 1199.8,1994.8 1203.2,1995.9C1206.7,1997.0 1210.8,1998.1 1215.6,1999.4C1220.4,2000.7 1226.9,2002.5 1232.1,2003.5C1237.2,2004.5 1242.4,2004.6 1246.5,2005.6C1250.6,2006.6 1253.7,2008.7 1256.8,2009.7C1259.9,2010.7 1262.3,2011.8 1265.1,2011.8C1267.8,2011.8 1270.9,2009.8 1273.3,2009.7C1275.7,2009.6 1277.3,2011.2 1279.5,2011.1C1281.7,2011.0 1284.1,2009.2 1286.7,2009.1C1289.3,2009.0 1293.0,2011.5 1294.9,2010.7C1296.8,2009.9 1297.0,2007.4 1298.0,2004.5C1299.0,2001.6 1299.9,1995.8 1301.1,1993.2C1302.3,1990.6 1303.9,1988.8 1305.3,1989.1C1306.7,1989.4 1308.0,1993.2 1309.4,1995.3C1310.8,1997.3 1312.2,2000.1 1313.5,2001.4C1314.8,2002.7 1316.4,2002.7 1317.0,2002.9M303.4,1987.1C304.4,1987.2 308.2,1991.0 309.7,1988.0C311.2,1985.0 311.6,1976.8 312.4,1969.2C313.1,1961.6 313.3,1949.8 314.2,1942.4C315.1,1934.9 316.7,1928.7 317.7,1924.5C318.7,1920.3 318.7,1919.0 320.4,1917.4C322.0,1915.8 325.5,1916.8 327.6,1914.7C329.7,1912.6 331.1,1907.7 332.9,1904.9C334.7,1902.1 335.9,1899.0 338.3,1897.7C340.7,1896.3 344.2,1896.8 347.2,1896.8C350.2,1896.8 353.6,1898.1 356.1,1897.7C358.6,1897.3 360.6,1894.5 362.4,1894.5C364.2,1894.5 365.3,1896.3 366.9,1897.7C368.5,1899.1 370.3,1902.8 372.2,1903.1C374.1,1903.4 376.4,1899.9 378.5,1899.5C380.6,1899.0 382.2,1899.3 384.7,1900.4C387.2,1901.4 389.4,1904.5 393.6,1905.8C397.8,1907.1 405.6,1907.4 409.8,1908.4C414.0,1909.4 415.0,1911.2 418.6,1912.0C422.2,1912.7 427.3,1912.1 431.2,1912.9C435.1,1913.6 438.0,1915.6 441.9,1916.5C445.8,1917.4 449.9,1917.0 454.4,1918.3C458.9,1919.6 463.9,1922.7 468.7,1924.5C473.5,1926.3 478.5,1927.2 483.0,1929.0C487.5,1930.8 491.6,1933.0 495.5,1935.2C499.4,1937.4 502.4,1940.3 506.3,1942.4C510.2,1944.5 514.6,1946.3 518.8,1947.8C523.0,1949.3 526.8,1950.7 531.3,1951.3C535.8,1951.9 542.1,1952.3 545.7,1951.3C549.3,1950.3 550.8,1946.0 552.9,1945.1C555.0,1944.2 556.5,1945.1 558.3,1946.0C560.1,1946.9 561.5,1949.7 563.6,1950.4C565.7,1951.1 568.4,1951.7 570.8,1950.4C573.2,1949.1 574.9,1945.5 577.9,1942.4C580.9,1939.3 585.3,1936.2 588.6,1931.7C591.9,1927.2 594.6,1921.9 597.6,1915.6C600.6,1909.3 603.8,1901.5 606.5,1894.1C609.2,1886.6 611.2,1879.2 613.6,1870.9C616.0,1862.6 618.7,1852.4 620.8,1844.1C622.9,1835.8 624.4,1829.2 626.2,1820.9C628.0,1812.6 629.9,1803.6 631.5,1794.1C633.1,1784.6 634.6,1773.2 636.0,1763.7C637.3,1754.2 638.6,1745.8 639.6,1736.9C640.6,1728.0 641.3,1719.0 642.2,1710.1C643.1,1701.2 643.8,1692.2 644.9,1683.3C645.9,1674.4 647.4,1663.9 648.5,1656.5C649.5,1649.0 650.4,1646.3 651.2,1638.6C651.9,1630.9 651.8,1619.5 653.0,1610.3C654.2,1601.1 656.7,1592.4 658.3,1583.5C659.9,1574.5 661.4,1564.6 662.8,1556.6C664.1,1548.5 665.5,1539.8 666.4,1535.2C667.3,1530.6 667.0,1529.4 668.2,1529.0C669.4,1528.5 672.2,1533.8 673.5,1532.5C674.8,1531.1 675.3,1528.8 676.2,1520.9C677.1,1513.0 678.1,1497.1 678.9,1485.2C679.6,1473.3 679.8,1461.3 680.7,1449.4C681.6,1437.5 683.0,1425.6 684.2,1413.7C685.4,1401.8 686.7,1388.3 687.8,1377.9C688.8,1367.5 689.7,1360.0 690.5,1351.1C691.2,1342.2 691.5,1331.4 692.3,1324.3C693.1,1317.2 694.1,1308.3 695.3,1308.3C696.5,1308.3 698.3,1315.7 699.4,1324.3C700.5,1332.9 701.0,1346.7 702.1,1360.1C703.1,1373.5 704.5,1389.9 705.7,1404.8C706.9,1419.7 708.0,1434.5 709.3,1449.4C710.6,1464.3 712.4,1479.2 713.7,1494.1C715.0,1509.0 716.2,1525.4 717.3,1538.8C718.3,1552.2 719.1,1562.6 720.0,1574.5C720.9,1586.4 721.8,1597.9 722.7,1610.3C723.6,1622.6 724.6,1639.4 725.3,1648.6C726.0,1657.8 726.0,1656.6 727.1,1665.4C728.1,1674.1 729.9,1689.8 731.6,1701.1C733.2,1712.4 734.9,1723.8 737.0,1733.3C739.1,1742.8 741.7,1749.7 744.1,1758.3C746.5,1766.9 748.6,1776.2 751.3,1785.1C754.0,1794.0 756.9,1803.8 760.2,1811.9C763.5,1819.9 766.2,1825.7 770.9,1833.4C775.6,1841.1 783.8,1851.5 788.3,1857.9C792.8,1864.2 794.7,1867.4 798.0,1871.5C801.2,1875.5 804.5,1879.0 807.8,1882.2C811.0,1885.4 813.9,1888.3 817.5,1890.9C821.0,1893.5 825.2,1895.1 829.1,1897.7C833.0,1900.3 837.5,1903.7 840.8,1906.5C844.0,1909.2 846.0,1911.3 848.6,1914.2C851.2,1917.1 853.4,1920.9 856.3,1924.0C859.2,1927.1 862.8,1930.3 866.1,1932.7C869.3,1935.1 873.2,1937.2 875.8,1938.5C878.4,1939.8 879.7,1939.2 881.6,1940.5C883.5,1941.8 884.5,1944.4 887.4,1946.3C890.3,1948.2 895.5,1950.0 899.1,1952.1C902.7,1954.2 905.9,1957.6 908.8,1958.9C911.7,1960.2 913.7,1958.8 916.6,1959.9C919.5,1961.0 923.1,1964.2 926.3,1965.7C929.5,1967.2 932.8,1968.0 936.0,1968.7C939.2,1969.3 942.1,1968.6 945.7,1969.6C949.3,1970.6 953.5,1973.4 957.4,1974.5C961.3,1975.6 965.2,1975.6 969.1,1976.4C973.0,1977.2 976.8,1978.8 980.7,1979.4C984.6,1979.9 987.2,1979.5 992.4,1979.7C997.6,1979.9 1005.8,1980.6 1011.8,1980.7C1017.8,1980.8 1024.1,1980.0 1028.6,1980.5C1033.1,1981.0 1032.0,1982.6 1038.9,1983.5C1045.8,1984.3 1059.5,1985.2 1069.8,1985.6C1080.1,1985.9 1093.2,1985.2 1100.8,1985.6C1108.4,1985.9 1110.0,1987.3 1115.2,1987.7C1120.3,1988.0 1125.5,1987.5 1131.7,1987.7C1137.9,1987.9 1145.4,1988.2 1152.3,1988.7C1159.2,1989.1 1166.0,1990.0 1172.9,1990.4C1179.8,1990.8 1188.7,1990.5 1193.5,1991.2C1198.3,1991.9 1198.3,1993.4 1201.8,1994.5C1205.2,1995.6 1209.4,1996.7 1214.2,1998.0C1219.0,1999.3 1225.5,2001.1 1230.7,2002.1C1235.8,2003.1 1241.0,2003.2 1245.1,2004.2C1249.2,2005.2 1252.3,2007.3 1255.4,2008.3C1258.5,2009.3 1260.9,2010.4 1263.7,2010.4C1266.4,2010.4 1269.5,2008.4 1271.9,2008.3C1274.3,2008.2 1275.9,2009.8 1278.1,2009.7C1280.3,2009.6 1282.7,2007.8 1285.3,2007.7C1287.9,2007.6 1291.6,2010.1 1293.5,2009.3C1295.4,2008.5 1295.6,2006.0 1296.6,2003.1C1297.6,2000.2 1298.5,1994.4 1299.7,1991.8C1300.9,1989.2 1302.5,1987.3 1303.9,1987.7C1305.3,1988.0 1306.6,1991.8 1308.0,1993.9C1309.4,1995.9 1310.8,1998.7 1312.1,2000.0C1313.4,2001.3 1315.0,2001.2 1315.6,2001.5M306.2,1987.1C307.3,1987.2 311.0,1991.0 312.5,1988.0C314.0,1985.0 314.5,1976.8 315.2,1969.2C316.0,1961.6 316.1,1949.8 317.0,1942.4C317.9,1934.9 319.5,1928.7 320.5,1924.5C321.5,1920.3 321.6,1919.0 323.2,1917.4C324.9,1915.8 328.3,1916.8 330.4,1914.7C332.5,1912.6 333.9,1907.7 335.7,1904.9C337.5,1902.1 338.7,1899.0 341.1,1897.7C343.5,1896.3 347.0,1896.8 350.0,1896.8C353.0,1896.8 356.4,1898.1 358.9,1897.7C361.4,1897.3 363.4,1894.5 365.2,1894.5C367.0,1894.5 368.1,1896.3 369.7,1897.7C371.3,1899.1 373.1,1902.8 375.0,1903.1C376.9,1903.4 379.2,1899.9 381.3,1899.5C383.4,1899.0 385.0,1899.3 387.5,1900.4C390.0,1901.4 392.2,1904.5 396.4,1905.8C400.6,1907.1 408.4,1907.4 412.6,1908.4C416.8,1909.4 417.8,1911.2 421.4,1912.0C425.0,1912.7 430.1,1912.1 434.0,1912.9C437.9,1913.6 440.8,1915.6 444.7,1916.5C448.6,1917.4 452.7,1917.0 457.2,1918.3C461.7,1919.6 466.7,1922.7 471.5,1924.5C476.3,1926.3 481.3,1927.2 485.8,1929.0C490.3,1930.8 494.4,1933.0 498.3,1935.2C502.2,1937.4 505.2,1940.3 509.1,1942.4C513.0,1944.5 517.4,1946.3 521.6,1947.8C525.8,1949.3 529.6,1950.7 534.1,1951.3C538.6,1951.9 544.9,1952.3 548.5,1951.3C552.1,1950.3 553.6,1946.0 555.7,1945.1C557.8,1944.2 559.3,1945.1 561.1,1946.0C562.9,1946.9 564.3,1949.7 566.4,1950.4C568.5,1951.1 571.2,1951.7 573.6,1950.4C576.0,1949.1 577.7,1945.5 580.7,1942.4C583.7,1939.3 588.1,1936.2 591.4,1931.7C594.7,1927.2 597.4,1921.9 600.4,1915.6C603.4,1909.3 606.6,1901.5 609.3,1894.1C612.0,1886.6 614.0,1879.2 616.4,1870.9C618.8,1862.6 621.5,1852.4 623.6,1844.1C625.7,1835.8 627.2,1829.2 629.0,1820.9C630.8,1812.6 632.7,1803.6 634.3,1794.1C635.9,1784.6 637.5,1773.2 638.8,1763.7C640.2,1754.2 641.4,1745.8 642.4,1736.9C643.4,1728.0 644.1,1719.0 645.0,1710.1C645.9,1701.2 646.7,1692.2 647.7,1683.3C648.8,1674.4 650.3,1663.9 651.3,1656.5C652.4,1649.0 653.3,1646.3 654.0,1638.6C654.8,1630.9 654.6,1619.5 655.8,1610.3C657.0,1601.1 659.5,1592.4 661.1,1583.5C662.7,1574.5 664.3,1564.6 665.6,1556.6C667.0,1548.5 668.3,1539.8 669.2,1535.2C670.1,1530.6 669.8,1529.4 671.0,1529.0C672.2,1528.5 675.0,1533.8 676.3,1532.5C677.6,1531.1 678.1,1528.8 679.0,1520.9C679.9,1513.0 681.0,1497.1 681.7,1485.2C682.5,1473.3 682.6,1461.3 683.5,1449.4C684.4,1437.5 685.8,1425.6 687.0,1413.7C688.2,1401.8 689.6,1388.3 690.6,1377.9C691.7,1367.5 692.6,1360.0 693.3,1351.1C694.1,1342.2 694.3,1331.4 695.1,1324.3C695.9,1317.2 696.9,1308.3 698.1,1308.3C699.3,1308.3 701.1,1315.7 702.2,1324.3C703.3,1332.9 703.9,1346.7 704.9,1360.1C706.0,1373.5 707.3,1389.9 708.5,1404.8C709.7,1419.7 710.8,1434.5 712.1,1449.4C713.4,1464.3 715.2,1479.2 716.5,1494.1C717.8,1509.0 719.1,1525.4 720.1,1538.8C721.2,1552.2 721.9,1562.6 722.8,1574.5C723.7,1586.4 724.6,1597.9 725.5,1610.3C726.4,1622.6 727.4,1639.4 728.1,1648.6C728.8,1657.8 728.9,1656.6 729.9,1665.4C731.0,1674.1 732.8,1689.8 734.4,1701.1C736.1,1712.4 737.7,1723.8 739.8,1733.3C741.9,1742.8 744.5,1749.7 746.9,1758.3C749.3,1766.9 751.4,1776.2 754.1,1785.1C756.8,1794.0 759.7,1803.8 763.0,1811.9C766.3,1819.9 769.0,1825.7 773.7,1833.4C778.4,1841.1 786.6,1851.5 791.1,1857.9C795.6,1864.2 797.6,1867.4 800.8,1871.5C804.1,1875.5 807.4,1879.0 810.6,1882.2C813.9,1885.4 816.8,1888.3 820.3,1890.9C823.9,1893.5 828.0,1895.1 831.9,1897.7C835.8,1900.3 840.4,1903.7 843.6,1906.5C846.9,1909.2 848.8,1911.3 851.4,1914.2C854.0,1917.1 856.2,1920.9 859.1,1924.0C862.0,1927.1 865.7,1930.3 868.9,1932.7C872.2,1935.1 876.0,1937.2 878.6,1938.5C881.2,1939.8 882.5,1939.2 884.4,1940.5C886.3,1941.8 887.3,1944.4 890.2,1946.3C893.1,1948.2 898.3,1950.0 901.9,1952.1C905.5,1954.2 908.7,1957.6 911.6,1958.9C914.5,1960.2 916.5,1958.8 919.4,1959.9C922.3,1961.0 925.9,1964.2 929.1,1965.7C932.3,1967.2 935.6,1968.0 938.8,1968.7C942.0,1969.3 944.9,1968.6 948.5,1969.6C952.1,1970.6 956.3,1973.4 960.2,1974.5C964.1,1975.6 968.0,1975.6 971.9,1976.4C975.8,1977.2 979.6,1978.8 983.5,1979.4C987.4,1979.9 990.0,1979.5 995.2,1979.7C1000.4,1979.9 1008.6,1980.6 1014.6,1980.7C1020.6,1980.8 1026.9,1980.0 1031.4,1980.5C1035.9,1981.0 1034.8,1982.6 1041.7,1983.5C1048.6,1984.3 1062.3,1985.2 1072.6,1985.6C1082.9,1985.9 1096.0,1985.2 1103.6,1985.6C1111.2,1985.9 1112.9,1987.3 1118.0,1987.7C1123.2,1988.0 1128.3,1987.5 1134.5,1987.7C1140.7,1987.9 1148.2,1988.2 1155.1,1988.7C1162.0,1989.1 1168.8,1990.0 1175.7,1990.4C1182.6,1990.8 1191.5,1990.5 1196.3,1991.2C1201.1,1991.9 1201.2,1993.4 1204.6,1994.5C1208.1,1995.6 1212.2,1996.7 1217.0,1998.0C1221.8,1999.3 1228.4,2001.1 1233.5,2002.1C1238.7,2003.1 1243.8,2003.2 1247.9,2004.2C1252.0,2005.2 1255.1,2007.3 1258.2,2008.3C1261.3,2009.3 1263.8,2010.4 1266.5,2010.4C1269.3,2010.4 1272.3,2008.4 1274.7,2008.3C1277.1,2008.2 1278.7,2009.8 1280.9,2009.7C1283.1,2009.6 1285.5,2007.8 1288.1,2007.7C1290.7,2007.6 1294.4,2010.1 1296.3,2009.3C1298.2,2008.5 1298.4,2006.0 1299.4,2003.1C1300.4,2000.2 1301.3,1994.4 1302.5,1991.8C1303.7,1989.2 1305.3,1987.3 1306.7,1987.7C1308.1,1988.0 1309.4,1991.8 1310.8,1993.9C1312.2,1995.9 1313.6,1998.7 1314.9,2000.0C1316.2,2001.3 1317.8,2001.2 1318.4,2001.5M303.4,1989.9C304.4,1990.1 308.2,1993.8 309.7,1990.8C311.2,1987.8 311.6,1979.6 312.4,1972.0C313.1,1964.4 313.3,1952.7 314.2,1945.2C315.1,1937.8 316.7,1931.5 317.7,1927.3C318.7,1923.1 318.7,1921.8 320.4,1920.2C322.0,1918.6 325.5,1919.6 327.6,1917.5C329.7,1915.4 331.1,1910.5 332.9,1907.7C334.7,1904.9 335.9,1901.9 338.3,1900.5C340.7,1899.2 344.2,1899.6 347.2,1899.6C350.2,1899.6 353.6,1900.9 356.1,1900.5C358.6,1900.1 360.6,1897.3 362.4,1897.3C364.2,1897.3 365.3,1899.1 366.9,1900.5C368.5,1901.9 370.3,1905.6 372.2,1905.9C374.1,1906.2 376.4,1902.8 378.5,1902.3C380.6,1901.9 382.2,1902.2 384.7,1903.2C387.2,1904.3 389.4,1907.3 393.6,1908.6C397.8,1909.9 405.6,1910.2 409.8,1911.2C414.0,1912.2 415.0,1914.1 418.6,1914.8C422.2,1915.6 427.3,1915.0 431.2,1915.7C435.1,1916.5 438.0,1918.4 441.9,1919.3C445.8,1920.2 449.9,1919.8 454.4,1921.1C458.9,1922.4 463.9,1925.5 468.7,1927.3C473.5,1929.1 478.5,1930.0 483.0,1931.8C487.5,1933.6 491.6,1935.8 495.5,1938.0C499.4,1940.2 502.4,1943.1 506.3,1945.2C510.2,1947.3 514.6,1949.1 518.8,1950.6C523.0,1952.1 526.8,1953.5 531.3,1954.1C535.8,1954.7 542.1,1955.1 545.7,1954.1C549.3,1953.1 550.8,1948.8 552.9,1947.9C555.0,1947.0 556.5,1947.9 558.3,1948.8C560.1,1949.7 561.5,1952.5 563.6,1953.2C565.7,1953.9 568.4,1954.5 570.8,1953.2C573.2,1951.9 574.9,1948.3 577.9,1945.2C580.9,1942.1 585.3,1939.0 588.6,1934.5C591.9,1930.0 594.6,1924.7 597.6,1918.4C600.6,1912.1 603.8,1904.4 606.5,1896.9C609.2,1889.5 611.2,1882.0 613.6,1873.7C616.0,1865.4 618.7,1855.2 620.8,1846.9C622.9,1838.6 624.4,1832.0 626.2,1823.7C628.0,1815.4 629.9,1806.4 631.5,1796.9C633.1,1787.4 634.6,1776.0 636.0,1766.5C637.3,1757.0 638.6,1748.6 639.6,1739.7C640.6,1730.8 641.3,1721.8 642.2,1712.9C643.1,1704.0 643.8,1695.0 644.9,1686.1C645.9,1677.2 647.4,1666.8 648.5,1659.3C649.5,1651.9 650.4,1649.1 651.2,1641.4C651.9,1633.7 651.8,1622.3 653.0,1613.1C654.2,1603.9 656.7,1595.3 658.3,1586.3C659.9,1577.4 661.4,1567.5 662.8,1559.4C664.1,1551.4 665.5,1542.6 666.4,1538.0C667.3,1533.4 667.0,1532.3 668.2,1531.8C669.4,1531.4 672.2,1536.7 673.5,1535.3C674.8,1534.0 675.3,1531.6 676.2,1523.7C677.1,1515.8 678.1,1499.9 678.9,1488.0C679.6,1476.1 679.8,1464.1 680.7,1452.2C681.6,1440.3 683.0,1428.4 684.2,1416.5C685.4,1404.6 686.7,1391.1 687.8,1380.7C688.8,1370.3 689.7,1362.8 690.5,1353.9C691.2,1345.0 691.5,1334.2 692.3,1327.1C693.1,1320.0 694.1,1311.1 695.3,1311.1C696.5,1311.1 698.3,1318.5 699.4,1327.1C700.5,1335.7 701.0,1349.5 702.1,1362.9C703.1,1376.3 704.5,1392.7 705.7,1407.6C706.9,1422.5 708.0,1437.3 709.3,1452.2C710.6,1467.1 712.4,1482.0 713.7,1496.9C715.0,1511.8 716.2,1528.2 717.3,1541.6C718.3,1555.0 719.1,1565.4 720.0,1577.3C720.9,1589.2 721.8,1600.8 722.7,1613.1C723.6,1625.5 724.6,1642.2 725.3,1651.4C726.0,1660.6 726.0,1659.5 727.1,1668.2C728.1,1677.0 729.9,1692.6 731.6,1703.9C733.2,1715.2 734.9,1726.6 737.0,1736.1C739.1,1745.6 741.7,1752.5 744.1,1761.1C746.5,1769.7 748.6,1779.0 751.3,1787.9C754.0,1796.8 756.9,1806.7 760.2,1814.7C763.5,1822.8 766.2,1828.5 770.9,1836.2C775.6,1843.9 783.8,1854.4 788.3,1860.7C792.8,1867.1 794.7,1870.3 798.0,1874.3C801.2,1878.4 804.5,1881.8 807.8,1885.0C811.0,1888.2 813.9,1891.1 817.5,1893.7C821.0,1896.3 825.2,1897.9 829.1,1900.5C833.0,1903.1 837.5,1906.6 840.8,1909.3C844.0,1912.1 846.0,1914.1 848.6,1917.0C851.2,1919.9 853.4,1923.7 856.3,1926.8C859.2,1929.9 862.8,1933.1 866.1,1935.5C869.3,1937.9 873.2,1940.0 875.8,1941.3C878.4,1942.6 879.7,1942.0 881.6,1943.3C883.5,1944.6 884.5,1947.2 887.4,1949.1C890.3,1951.0 895.5,1952.8 899.1,1954.9C902.7,1957.0 905.9,1960.4 908.8,1961.7C911.7,1963.0 913.7,1961.6 916.6,1962.7C919.5,1963.8 923.1,1967.0 926.3,1968.5C929.5,1970.0 932.8,1970.9 936.0,1971.5C939.2,1972.2 942.1,1971.4 945.7,1972.4C949.3,1973.4 953.5,1976.2 957.4,1977.3C961.3,1978.4 965.2,1978.4 969.1,1979.2C973.0,1980.0 976.8,1981.7 980.7,1982.2C984.6,1982.8 987.2,1982.3 992.4,1982.5C997.6,1982.7 1005.8,1983.4 1011.8,1983.5C1017.8,1983.6 1024.1,1982.8 1028.6,1983.3C1033.1,1983.8 1032.0,1985.5 1038.9,1986.3C1045.8,1987.2 1059.5,1988.1 1069.8,1988.4C1080.1,1988.8 1093.2,1988.1 1100.8,1988.4C1108.4,1988.8 1110.0,1990.2 1115.2,1990.5C1120.3,1990.9 1125.5,1990.3 1131.7,1990.5C1137.9,1990.7 1145.4,1991.1 1152.3,1991.5C1159.2,1992.0 1166.0,1992.8 1172.9,1993.2C1179.8,1993.6 1188.7,1993.3 1193.5,1994.0C1198.3,1994.7 1198.3,1996.2 1201.8,1997.3C1205.2,1998.4 1209.4,1999.5 1214.2,2000.8C1219.0,2002.1 1225.5,2003.9 1230.7,2004.9C1235.8,2005.9 1241.0,2006.0 1245.1,2007.0C1249.2,2008.0 1252.3,2010.1 1255.4,2011.1C1258.5,2012.1 1260.9,2013.2 1263.7,2013.2C1266.4,2013.2 1269.5,2011.2 1271.9,2011.1C1274.3,2011.0 1275.9,2012.6 1278.1,2012.5C1280.3,2012.4 1282.7,2010.6 1285.3,2010.5C1287.9,2010.4 1291.6,2012.9 1293.5,2012.1C1295.4,2011.3 1295.6,2008.8 1296.6,2005.9C1297.6,2003.0 1298.5,1997.2 1299.7,1994.6C1300.9,1992.0 1302.5,1990.2 1303.9,1990.5C1305.3,1990.9 1306.6,1994.7 1308.0,1996.7C1309.4,1998.8 1310.8,2001.5 1312.1,2002.8C1313.4,2004.1 1315.0,2004.1 1315.6,2004.3M306.2,1989.9C307.3,1990.1 311.0,1993.8 312.5,1990.8C314.0,1987.8 314.5,1979.6 315.2,1972.0C316.0,1964.4 316.1,1952.7 317.0,1945.2C317.9,1937.8 319.5,1931.5 320.5,1927.3C321.5,1923.1 321.6,1921.8 323.2,1920.2C324.9,1918.6 328.3,1919.6 330.4,1917.5C332.5,1915.4 333.9,1910.5 335.7,1907.7C337.5,1904.9 338.7,1901.9 341.1,1900.5C343.5,1899.2 347.0,1899.6 350.0,1899.6C353.0,1899.6 356.4,1900.9 358.9,1900.5C361.4,1900.1 363.4,1897.3 365.2,1897.3C367.0,1897.3 368.1,1899.1 369.7,1900.5C371.3,1901.9 373.1,1905.6 375.0,1905.9C376.9,1906.2 379.2,1902.8 381.3,1902.3C383.4,1901.9 385.0,1902.2 387.5,1903.2C390.0,1904.3 392.2,1907.3 396.4,1908.6C400.6,1909.9 408.4,1910.2 412.6,1911.2C416.8,1912.2 417.8,1914.1 421.4,1914.8C425.0,1915.6 430.1,1915.0 434.0,1915.7C437.9,1916.5 440.8,1918.4 444.7,1919.3C448.6,1920.2 452.7,1919.8 457.2,1921.1C461.7,1922.4 466.7,1925.5 471.5,1927.3C476.3,1929.1 481.3,1930.0 485.8,1931.8C490.3,1933.6 494.4,1935.8 498.3,1938.0C502.2,1940.2 505.2,1943.1 509.1,1945.2C513.0,1947.3 517.4,1949.1 521.6,1950.6C525.8,1952.1 529.6,1953.5 534.1,1954.1C538.6,1954.7 544.9,1955.1 548.5,1954.1C552.1,1953.1 553.6,1948.8 555.7,1947.9C557.8,1947.0 559.3,1947.9 561.1,1948.8C562.9,1949.7 564.3,1952.5 566.4,1953.2C568.5,1953.9 571.2,1954.5 573.6,1953.2C576.0,1951.9 577.7,1948.3 580.7,1945.2C583.7,1942.1 588.1,1939.0 591.4,1934.5C594.7,1930.0 597.4,1924.7 600.4,1918.4C603.4,1912.1 606.6,1904.4 609.3,1896.9C612.0,1889.5 614.0,1882.0 616.4,1873.7C618.8,1865.4 621.5,1855.2 623.6,1846.9C625.7,1838.6 627.2,1832.0 629.0,1823.7C630.8,1815.4 632.7,1806.4 634.3,1796.9C635.9,1787.4 637.5,1776.0 638.8,1766.5C640.2,1757.0 641.4,1748.6 642.4,1739.7C643.4,1730.8 644.1,1721.8 645.0,1712.9C645.9,1704.0 646.7,1695.0 647.7,1686.1C648.8,1677.2 650.3,1666.8 651.3,1659.3C652.4,1651.9 653.3,1649.1 654.0,1641.4C654.8,1633.7 654.6,1622.3 655.8,1613.1C657.0,1603.9 659.5,1595.3 661.1,1586.3C662.7,1577.4 664.3,1567.5 665.6,1559.4C667.0,1551.4 668.3,1542.6 669.2,1538.0C670.1,1533.4 669.8,1532.3 671.0,1531.8C672.2,1531.4 675.0,1536.7 676.3,1535.3C677.6,1534.0 678.1,1531.6 679.0,1523.7C679.9,1515.8 681.0,1499.9 681.7,1488.0C682.5,1476.1 682.6,1464.1 683.5,1452.2C684.4,1440.3 685.8,1428.4 687.0,1416.5C688.2,1404.6 689.6,1391.1 690.6,1380.7C691.7,1370.3 692.6,1362.8 693.3,1353.9C694.1,1345.0 694.3,1334.2 695.1,1327.1C695.9,1320.0 696.9,1311.1 698.1,1311.1C699.3,1311.1 701.1,1318.5 702.2,1327.1C703.3,1335.7 703.9,1349.5 704.9,1362.9C706.0,1376.3 707.3,1392.7 708.5,1407.6C709.7,1422.5 710.8,1437.3 712.1,1452.2C713.4,1467.1 715.2,1482.0 716.5,1496.9C717.8,1511.8 719.1,1528.2 720.1,1541.6C721.2,1555.0 721.9,1565.4 722.8,1577.3C723.7,1589.2 724.6,1600.8 725.5,1613.1C726.4,1625.5 727.4,1642.2 728.1,1651.4C728.8,1660.6 728.9,1659.5 729.9,1668.2C731.0,1677.0 732.8,1692.6 734.4,1703.9C736.1,1715.2 737.7,1726.6 739.8,1736.1C741.9,1745.6 744.5,1752.5 746.9,1761.1C749.3,1769.7 751.4,1779.0 754.1,1787.9C756.8,1796.8 759.7,1806.7 763.0,1814.7C766.3,1822.8 769.0,1828.5 773.7,1836.2C778.4,1843.9 786.6,1854.4 791.1,1860.7C795.6,1867.1 797.6,1870.3 800.8,1874.3C804.1,1878.4 807.4,1881.8 810.6,1885.0C813.9,1888.2 816.8,1891.1 820.3,1893.7C823.9,1896.3 828.0,1897.9 831.9,1900.5C835.8,1903.1 840.4,1906.6 843.6,1909.3C846.9,1912.1 848.8,1914.1 851.4,1917.0C854.0,1919.9 856.2,1923.7 859.1,1926.8C862.0,1929.9 865.7,1933.1 868.9,1935.5C872.2,1937.9 876.0,1940.0 878.6,1941.3C881.2,1942.6 882.5,1942.0 884.4,1943.3C886.3,1944.6 887.3,1947.2 890.2,1949.1C893.1,1951.0 898.3,1952.8 901.9,1954.9C905.5,1957.0 908.7,1960.4 911.6,1961.7C914.5,1963.0 916.5,1961.6 919.4,1962.7C922.3,1963.8 925.9,1967.0 929.1,1968.5C932.3,1970.0 935.6,1970.9 938.8,1971.5C942.0,1972.2 944.9,1971.4 948.5,1972.4C952.1,1973.4 956.3,1976.2 960.2,1977.3C964.1,1978.4 968.0,1978.4 971.9,1979.2C975.8,1980.0 979.6,1981.7 983.5,1982.2C987.4,1982.8 990.0,1982.3 995.2,1982.5C1000.4,1982.7 1008.6,1983.4 1014.6,1983.5C1020.6,1983.6 1026.9,1982.8 1031.4,1983.3C1035.9,1983.8 1034.8,1985.5 1041.7,1986.3C1048.6,1987.2 1062.3,1988.1 1072.6,1988.4C1082.9,1988.8 1096.0,1988.1 1103.6,1988.4C1111.2,1988.8 1112.9,1990.2 1118.0,1990.5C1123.2,1990.9 1128.3,1990.3 1134.5,1990.5C1140.7,1990.7 1148.2,1991.1 1155.1,1991.5C1162.0,1992.0 1168.8,1992.8 1175.7,1993.2C1182.6,1993.6 1191.5,1993.3 1196.3,1994.0C1201.1,1994.7 1201.2,1996.2 1204.6,1997.3C1208.1,1998.4 1212.2,1999.5 1217.0,2000.8C1221.8,2002.1 1228.4,2003.9 1233.5,2004.9C1238.7,2005.9 1243.8,2006.0 1247.9,2007.0C1252.0,2008.0 1255.1,2010.1 1258.2,2011.1C1261.3,2012.1 1263.8,2013.2 1266.5,2013.2C1269.3,2013.2 1272.3,2011.2 1274.7,2011.1C1277.1,2011.0 1278.7,2012.6 1280.9,2012.5C1283.1,2012.4 1285.5,2010.6 1288.1,2010.5C1290.7,2010.4 1294.4,2012.9 1296.3,2012.1C1298.2,2011.3 1298.4,2008.8 1299.4,2005.9C1300.4,2003.0 1301.3,1997.2 1302.5,1994.6C1303.7,1992.0 1305.3,1990.2 1306.7,1990.5C1308.1,1990.9 1309.4,1994.7 1310.8,1996.7C1312.2,1998.8 1313.6,2001.5 1314.9,2002.8C1316.2,2004.1 1317.8,2004.1 1318.4,2004.3" fill="none" stroke="#ff0000" stroke-width="2.57" stroke-linejoin="round" stroke-linecap="square"/>
<path d="M311.1,1964.3C312.3,1967.7 316.1,1985.3 318.2,1984.9C320.3,1984.5 322.0,1973.0 323.6,1961.7C325.2,1950.4 326.9,1930.4 328.1,1917.0C329.3,1903.6 329.8,1893.1 330.7,1881.2C331.6,1869.3 332.5,1856.5 333.4,1845.5C334.3,1834.5 335.1,1821.9 336.1,1815.1C337.2,1808.2 337.9,1806.3 339.7,1804.4C341.5,1802.5 345.0,1806.2 346.8,1803.5C348.6,1800.8 349.2,1794.7 350.4,1788.3C351.6,1781.9 352.8,1771.6 354.0,1765.1C355.2,1758.5 356.2,1752.6 357.5,1749.0C358.8,1745.4 360.0,1743.3 361.5,1743.6C363.0,1743.9 364.8,1747.2 366.5,1750.8C368.2,1754.4 369.7,1760.3 371.8,1765.1C373.9,1769.9 376.6,1774.0 379.0,1779.4C381.4,1784.8 384.0,1791.9 386.1,1797.3C388.2,1802.7 389.4,1807.1 391.5,1811.6C393.6,1816.0 396.2,1819.8 398.6,1824.0C401.0,1828.2 403.4,1830.9 405.8,1836.6C408.2,1842.3 410.5,1851.2 412.9,1858.0C415.3,1864.8 417.3,1870.5 420.0,1877.7C422.7,1884.9 426.0,1893.8 429.0,1900.9C432.0,1908.1 435.0,1914.9 438.0,1920.6C441.0,1926.3 443.9,1930.4 446.9,1934.9C449.9,1939.4 452.8,1943.8 455.8,1947.4C458.8,1951.0 461.8,1953.6 464.8,1956.3C467.8,1959.0 470.4,1960.9 473.7,1963.4C477.0,1965.9 480.8,1969.4 484.4,1971.5C488.0,1973.6 491.5,1974.6 495.1,1976.0C498.7,1977.4 502.0,1979.2 505.9,1980.0C509.8,1980.8 514.2,1980.7 518.4,1980.8C522.6,1980.9 527.3,1981.4 530.9,1980.4C534.5,1979.5 536.8,1977.3 539.8,1975.1C542.8,1972.9 546.2,1970.7 548.9,1967.0C551.6,1963.3 554.0,1958.0 556.1,1952.7C558.2,1947.4 559.6,1941.5 561.4,1934.9C563.2,1928.4 565.0,1921.5 566.8,1913.4C568.6,1905.4 570.6,1896.4 572.2,1886.6C573.8,1876.8 575.3,1864.2 576.6,1854.4C577.9,1844.6 579.0,1838.0 580.2,1827.6C581.4,1817.2 582.6,1803.8 583.8,1791.9C585.0,1780.0 586.2,1767.2 587.4,1756.2C588.6,1745.2 589.6,1736.2 590.9,1725.8C592.2,1715.4 593.8,1702.8 595.4,1693.6C597.0,1684.4 599.0,1676.4 600.8,1670.4C602.6,1664.5 604.3,1660.7 606.1,1657.9C607.9,1655.1 609.7,1653.4 611.5,1653.4C613.3,1653.4 615.0,1655.1 616.8,1657.9C618.6,1660.7 620.4,1665.4 622.2,1670.4C624.0,1675.5 625.8,1681.4 627.6,1688.2C629.4,1695.0 631.1,1703.5 632.9,1711.5C634.7,1719.5 636.5,1728.2 638.3,1736.5C640.1,1744.8 641.8,1753.2 643.6,1761.5C645.4,1769.8 647.2,1778.8 649.0,1786.5C650.8,1794.2 652.3,1802.3 654.4,1808.0C656.5,1813.7 659.1,1816.6 661.5,1820.5C663.9,1824.4 666.3,1827.0 668.7,1831.2C671.1,1835.4 673.4,1841.3 675.8,1845.5C678.2,1849.7 680.3,1853.5 683.0,1856.2C685.7,1858.9 688.3,1859.8 691.9,1861.6C695.5,1863.4 699.9,1865.8 704.4,1866.9C708.9,1868.0 714.2,1868.0 718.7,1868.4C723.2,1868.9 727.3,1868.8 731.2,1869.6C735.1,1870.4 738.0,1871.8 741.9,1873.2C745.8,1874.6 750.2,1875.8 754.4,1877.7C758.6,1879.6 763.0,1882.7 766.9,1884.8C770.8,1886.9 773.6,1888.3 777.7,1890.2C781.8,1892.1 788.1,1894.4 791.7,1896.2C795.3,1898.0 794.9,1899.6 799.4,1901.1C803.9,1902.6 812.4,1903.9 818.9,1905.0C825.4,1906.1 831.8,1906.9 838.3,1907.9C844.8,1908.9 851.9,1910.0 857.7,1910.8C863.5,1911.6 868.8,1911.2 873.3,1912.7C877.8,1914.2 881.0,1917.5 884.9,1919.5C888.8,1921.5 892.7,1922.9 896.6,1924.4C900.5,1925.9 904.4,1926.7 908.3,1928.3C912.2,1929.9 916.7,1932.3 919.9,1934.1C923.1,1935.9 924.5,1936.6 927.7,1939.0C931.0,1941.4 935.5,1945.5 939.4,1948.7C943.3,1951.9 947.1,1955.3 951.0,1958.4C954.9,1961.5 958.8,1964.5 962.7,1967.1C966.6,1969.7 970.4,1972.0 974.3,1974.0C978.2,1976.0 982.1,1977.5 986.0,1978.8C989.9,1980.1 993.8,1980.7 997.7,1981.7C1001.6,1982.7 1003.5,1984.0 1009.3,1984.6C1015.1,1985.2 1024.1,1985.1 1032.6,1985.2C1041.0,1985.3 1050.1,1985.2 1060.0,1985.2C1069.9,1985.2 1085.6,1985.3 1091.9,1984.9C1098.2,1984.5 1091.1,1983.5 1098.0,1982.9C1104.9,1982.3 1120.4,1981.9 1133.1,1981.4C1145.8,1981.0 1162.3,1980.6 1174.3,1980.2C1186.3,1979.8 1197.4,1978.8 1205.3,1978.8C1213.2,1978.8 1216.6,1979.3 1221.8,1980.2C1227.0,1981.1 1230.4,1982.7 1236.2,1984.3C1242.0,1985.9 1251.7,1988.3 1256.8,1989.7C1261.9,1991.1 1261.9,1991.7 1267.1,1992.6C1272.2,1993.5 1281.5,1994.4 1287.7,1995.3C1293.9,1996.2 1299.3,1997.1 1304.2,1997.9C1309.1,1998.7 1314.9,1999.7 1317.0,2000.0M309.6,1962.8C310.8,1966.3 314.7,1983.9 316.7,1983.4C318.8,1983.0 320.5,1971.5 322.1,1960.2C323.8,1948.9 325.5,1929.0 326.6,1915.5C327.8,1902.1 328.4,1891.7 329.2,1879.7C330.1,1867.8 331.0,1855.0 331.9,1844.0C332.8,1833.0 333.6,1820.5 334.6,1813.6C335.7,1806.8 336.5,1804.9 338.2,1802.9C340.0,1801.0 343.6,1804.7 345.3,1802.0C347.1,1799.3 347.7,1793.2 348.9,1786.8C350.1,1780.4 351.4,1770.2 352.5,1763.6C353.7,1757.1 354.8,1751.1 356.0,1747.5C357.3,1744.0 358.5,1741.8 360.0,1742.1C361.5,1742.4 363.3,1745.8 365.0,1749.3C366.8,1752.9 368.3,1758.9 370.3,1763.6C372.4,1768.4 375.2,1772.6 377.5,1777.9C379.9,1783.3 382.6,1790.5 384.6,1795.8C386.7,1801.2 388.0,1805.7 390.0,1810.1C392.1,1814.6 394.8,1818.4 397.1,1822.5C399.5,1826.7 402.0,1829.5 404.3,1835.1C406.7,1840.8 409.1,1849.7 411.4,1856.5C413.8,1863.4 415.9,1869.1 418.5,1876.2C421.2,1883.4 424.5,1892.3 427.5,1899.4C430.5,1906.6 433.6,1913.5 436.5,1919.1C439.5,1924.8 442.5,1929.0 445.4,1933.4C448.4,1937.9 451.4,1942.4 454.3,1945.9C457.3,1949.5 460.4,1952.2 463.3,1954.8C466.3,1957.5 469.0,1959.4 472.2,1961.9C475.5,1964.5 479.4,1967.9 482.9,1970.0C486.5,1972.1 490.1,1973.1 493.6,1974.5C497.2,1976.0 500.6,1977.7 504.4,1978.5C508.3,1979.3 512.8,1979.3 516.9,1979.3C521.1,1979.4 525.9,1979.9 529.4,1978.9C533.0,1978.0 535.3,1975.9 538.3,1973.6C541.3,1971.4 544.7,1969.3 547.4,1965.5C550.1,1961.8 552.5,1956.6 554.6,1951.2C556.7,1945.9 558.1,1940.0 559.9,1933.4C561.7,1926.9 563.5,1920.0 565.3,1911.9C567.1,1903.9 569.1,1895.0 570.7,1885.1C572.4,1875.3 573.8,1862.8 575.1,1852.9C576.5,1843.1 577.5,1836.5 578.7,1826.1C579.9,1815.7 581.1,1802.3 582.3,1790.4C583.5,1778.5 584.8,1765.8 585.9,1754.7C587.1,1743.7 588.1,1734.8 589.4,1724.3C590.8,1713.9 592.3,1701.4 593.9,1692.1C595.6,1682.9 597.5,1674.9 599.3,1668.9C601.1,1663.0 602.9,1659.3 604.6,1656.4C606.4,1653.6 608.2,1651.9 610.0,1651.9C611.8,1651.9 613.5,1653.6 615.3,1656.4C617.1,1659.3 618.9,1663.9 620.7,1668.9C622.5,1674.0 624.4,1679.9 626.1,1686.7C627.9,1693.6 629.6,1702.0 631.4,1710.0C633.2,1718.1 635.0,1726.7 636.8,1735.0C638.6,1743.4 640.4,1751.7 642.1,1760.0C643.9,1768.4 645.7,1777.3 647.5,1785.0C649.3,1792.8 650.8,1800.9 652.9,1806.5C655.0,1812.2 657.6,1815.2 660.0,1819.0C662.4,1822.9 664.9,1825.6 667.2,1829.7C669.6,1833.9 671.9,1839.9 674.3,1844.0C676.7,1848.2 678.8,1852.0 681.5,1854.7C684.2,1857.4 686.9,1858.3 690.4,1860.1C694.0,1861.9 698.5,1864.3 702.9,1865.4C707.4,1866.6 712.8,1866.5 717.2,1866.9C721.7,1867.4 725.9,1867.3 729.7,1868.1C733.6,1868.9 736.6,1870.4 740.4,1871.7C744.3,1873.1 748.8,1874.3 752.9,1876.2C757.1,1878.2 761.5,1881.2 765.4,1883.3C769.3,1885.4 772.1,1886.8 776.2,1888.7C780.4,1890.6 786.6,1892.9 790.2,1894.7C793.9,1896.5 793.4,1898.2 797.9,1899.6C802.5,1901.1 810.9,1902.4 817.4,1903.5C823.9,1904.7 830.4,1905.5 836.8,1906.4C843.3,1907.4 850.4,1908.5 856.2,1909.3C862.1,1910.1 867.3,1909.8 871.8,1911.2C876.4,1912.7 879.5,1916.1 883.4,1918.0C887.3,1920.0 891.2,1921.5 895.1,1922.9C899.0,1924.4 902.9,1925.2 906.8,1926.8C910.7,1928.4 915.2,1930.8 918.4,1932.6C921.7,1934.4 923.0,1935.1 926.2,1937.5C929.5,1940.0 934.0,1944.0 937.9,1947.2C941.8,1950.5 945.6,1953.9 949.5,1956.9C953.4,1960.0 957.4,1963.0 961.2,1965.6C965.1,1968.2 968.9,1970.6 972.8,1972.5C976.7,1974.5 980.6,1976.0 984.5,1977.3C988.4,1978.6 992.4,1979.3 996.2,1980.2C1000.1,1981.2 1002.0,1982.5 1007.8,1983.1C1013.6,1983.7 1022.7,1983.6 1031.1,1983.7C1039.6,1983.8 1048.6,1983.8 1058.5,1983.7C1068.4,1983.7 1084.1,1983.8 1090.4,1983.4C1096.8,1983.1 1089.7,1982.0 1096.5,1981.4C1103.4,1980.9 1118.9,1980.4 1131.6,1979.9C1144.3,1979.5 1160.8,1979.2 1172.8,1978.7C1184.9,1978.3 1195.9,1977.3 1203.8,1977.3C1211.8,1977.3 1215.2,1977.8 1220.3,1978.7C1225.5,1979.7 1228.9,1981.2 1234.7,1982.8C1240.6,1984.4 1250.2,1986.8 1255.3,1988.2C1260.5,1989.6 1260.5,1990.2 1265.6,1991.1C1270.8,1992.1 1280.0,1992.9 1286.2,1993.8C1292.4,1994.7 1297.8,1995.7 1302.7,1996.4C1307.6,1997.2 1313.4,1998.2 1315.5,1998.5M312.6,1962.8C313.8,1966.3 317.6,1983.9 319.7,1983.4C321.7,1983.0 323.4,1971.5 325.1,1960.2C326.7,1948.9 328.4,1929.0 329.6,1915.5C330.8,1902.1 331.3,1891.7 332.2,1879.7C333.0,1867.8 334.0,1855.0 334.9,1844.0C335.8,1833.0 336.5,1820.5 337.6,1813.6C338.6,1806.8 339.4,1804.9 341.2,1802.9C342.9,1801.0 346.5,1804.7 348.3,1802.0C350.0,1799.3 350.7,1793.2 351.9,1786.8C353.1,1780.4 354.3,1770.2 355.5,1763.6C356.6,1757.1 357.7,1751.1 359.0,1747.5C360.2,1744.0 361.5,1741.8 363.0,1742.1C364.5,1742.4 366.2,1745.8 368.0,1749.3C369.7,1752.9 371.2,1758.9 373.3,1763.6C375.3,1768.4 378.1,1772.6 380.5,1777.9C382.8,1783.3 385.5,1790.5 387.6,1795.8C389.6,1801.2 390.9,1805.7 393.0,1810.1C395.0,1814.6 397.7,1818.4 400.1,1822.5C402.4,1826.7 404.9,1829.5 407.3,1835.1C409.6,1840.8 412.0,1849.7 414.4,1856.5C416.7,1863.4 418.8,1869.1 421.5,1876.2C424.1,1883.4 427.5,1892.3 430.5,1899.4C433.5,1906.6 436.5,1913.5 439.5,1919.1C442.4,1924.8 445.4,1929.0 448.4,1933.4C451.3,1937.9 454.3,1942.4 457.3,1945.9C460.2,1949.5 463.3,1952.2 466.3,1954.8C469.2,1957.5 471.9,1959.4 475.2,1961.9C478.4,1964.5 482.3,1967.9 485.9,1970.0C489.4,1972.1 493.0,1973.1 496.6,1974.5C500.1,1976.0 503.5,1977.7 507.4,1978.5C511.2,1979.3 515.7,1979.3 519.9,1979.3C524.0,1979.4 528.8,1979.9 532.4,1978.9C535.9,1978.0 538.3,1975.9 541.3,1973.6C544.3,1971.4 547.6,1969.3 550.4,1965.5C553.1,1961.8 555.5,1956.6 557.6,1951.2C559.7,1945.9 561.1,1940.0 562.9,1933.4C564.6,1926.9 566.5,1920.0 568.3,1911.9C570.1,1903.9 572.0,1895.0 573.7,1885.1C575.3,1875.3 576.7,1862.8 578.1,1852.9C579.4,1843.1 580.5,1836.5 581.7,1826.1C582.9,1815.7 584.1,1802.3 585.3,1790.4C586.5,1778.5 587.7,1765.8 588.9,1754.7C590.0,1743.7 591.0,1734.8 592.4,1724.3C593.7,1713.9 595.2,1701.4 596.9,1692.1C598.5,1682.9 600.5,1674.9 602.3,1668.9C604.0,1663.0 605.8,1659.3 607.6,1656.4C609.4,1653.6 611.2,1651.9 613.0,1651.9C614.8,1651.9 616.5,1653.6 618.3,1656.4C620.0,1659.3 621.9,1663.9 623.7,1668.9C625.5,1674.0 627.3,1679.9 629.1,1686.7C630.9,1693.6 632.6,1702.0 634.4,1710.0C636.1,1718.1 638.0,1726.7 639.8,1735.0C641.5,1743.4 643.3,1751.7 645.1,1760.0C646.9,1768.4 648.7,1777.3 650.5,1785.0C652.3,1792.8 653.8,1800.9 655.9,1806.5C658.0,1812.2 660.6,1815.2 663.0,1819.0C665.4,1822.9 667.8,1825.6 670.2,1829.7C672.6,1833.9 674.9,1839.9 677.3,1844.0C679.6,1848.2 681.8,1852.0 684.5,1854.7C687.2,1857.4 689.8,1858.3 693.4,1860.1C696.9,1861.9 701.4,1864.3 705.9,1865.4C710.3,1866.6 715.7,1866.5 720.2,1866.9C724.6,1867.4 728.8,1867.3 732.7,1868.1C736.5,1868.9 739.5,1870.4 743.4,1871.7C747.2,1873.1 751.7,1874.3 755.9,1876.2C760.0,1878.2 764.5,1881.2 768.4,1883.3C772.2,1885.4 775.0,1886.8 779.2,1888.7C783.3,1890.6 789.6,1892.9 793.2,1894.7C796.8,1896.5 796.3,1898.2 800.9,1899.6C805.4,1901.1 813.9,1902.4 820.4,1903.5C826.9,1904.7 833.3,1905.5 839.8,1906.4C846.2,1907.4 853.3,1908.5 859.2,1909.3C865.0,1910.1 870.2,1909.8 874.8,1911.2C879.3,1912.7 882.5,1916.1 886.4,1918.0C890.2,1920.0 894.2,1921.5 898.1,1922.9C902.0,1924.4 905.9,1925.2 909.8,1926.8C913.6,1928.4 918.1,1930.8 921.4,1932.6C924.6,1934.4 925.9,1935.1 929.2,1937.5C932.4,1940.0 937.0,1944.0 940.9,1947.2C944.8,1950.5 948.6,1953.9 952.5,1956.9C956.4,1960.0 960.3,1963.0 964.2,1965.6C968.1,1968.2 971.9,1970.6 975.8,1972.5C979.6,1974.5 983.6,1976.0 987.5,1977.3C991.4,1978.6 995.3,1979.3 999.2,1980.2C1003.1,1981.2 1005.0,1982.5 1010.8,1983.1C1016.6,1983.7 1025.6,1983.6 1034.1,1983.7C1042.5,1983.8 1051.6,1983.8 1061.5,1983.7C1071.4,1983.7 1087.0,1983.8 1093.4,1983.4C1099.7,1983.1 1092.6,1982.0 1099.5,1981.4C1106.3,1980.9 1121.8,1980.4 1134.6,1979.9C1147.3,1979.5 1163.7,1979.2 1175.8,1978.7C1187.8,1978.3 1198.8,1977.3 1206.8,1977.3C1214.7,1977.3 1218.1,1977.8 1223.3,1978.7C1228.4,1979.7 1231.8,1981.2 1237.7,1982.8C1243.5,1984.4 1253.1,1986.8 1258.3,1988.2C1263.4,1989.6 1263.4,1990.2 1268.6,1991.1C1273.7,1992.1 1283.0,1992.9 1289.2,1993.8C1295.4,1994.7 1300.8,1995.7 1305.7,1996.4C1310.6,1997.2 1316.3,1998.2 1318.5,1998.5M309.6,1965.8C310.8,1969.2 314.7,1986.8 316.7,1986.4C318.8,1985.9 320.5,1974.5 322.1,1963.2C323.8,1951.9 325.5,1931.9 326.6,1918.5C327.8,1905.0 328.4,1894.6 329.2,1882.7C330.1,1870.8 331.0,1858.0 331.9,1847.0C332.8,1836.0 333.6,1823.4 334.6,1816.6C335.7,1809.7 336.5,1807.8 338.2,1805.9C340.0,1803.9 343.6,1807.7 345.3,1805.0C347.1,1802.3 347.7,1796.2 348.9,1789.8C350.1,1783.4 351.4,1773.1 352.5,1766.6C353.7,1760.0 354.8,1754.0 356.0,1750.5C357.3,1746.9 358.5,1744.8 360.0,1745.1C361.5,1745.4 363.3,1748.7 365.0,1752.3C366.8,1755.8 368.3,1761.8 370.3,1766.6C372.4,1771.3 375.2,1775.5 377.5,1780.9C379.9,1786.2 382.6,1793.4 384.6,1798.8C386.7,1804.1 388.0,1808.6 390.0,1813.1C392.1,1817.5 394.8,1821.3 397.1,1825.5C399.5,1829.6 402.0,1832.4 404.3,1838.1C406.7,1843.7 409.1,1852.6 411.4,1859.5C413.8,1866.3 415.9,1872.0 418.5,1879.2C421.2,1886.3 424.5,1895.2 427.5,1902.4C430.5,1909.5 433.6,1916.4 436.5,1922.1C439.5,1927.7 442.5,1931.9 445.4,1936.4C448.4,1940.8 451.4,1945.3 454.3,1948.9C457.3,1952.4 460.4,1955.1 463.3,1957.8C466.3,1960.4 469.0,1962.3 472.2,1964.9C475.5,1967.4 479.4,1970.9 482.9,1973.0C486.5,1975.1 490.1,1976.0 493.6,1977.5C497.2,1978.9 500.6,1980.7 504.4,1981.5C508.3,1982.3 512.8,1982.2 516.9,1982.3C521.1,1982.3 525.9,1982.8 529.4,1981.9C533.0,1980.9 535.3,1978.8 538.3,1976.6C541.3,1974.3 544.7,1972.2 547.4,1968.5C550.1,1964.7 552.5,1959.5 554.6,1954.2C556.7,1948.8 558.1,1942.9 559.9,1936.4C561.7,1929.8 563.5,1922.9 565.3,1914.9C567.1,1906.8 569.1,1897.9 570.7,1888.1C572.4,1878.2 573.8,1865.7 575.1,1855.9C576.5,1846.0 577.5,1839.5 578.7,1829.1C579.9,1818.6 581.1,1805.3 582.3,1793.4C583.5,1781.5 584.8,1768.7 585.9,1757.7C587.1,1746.7 588.1,1737.7 589.4,1727.3C590.8,1716.8 592.3,1704.3 593.9,1695.1C595.6,1685.8 597.5,1677.8 599.3,1671.9C601.1,1665.9 602.9,1662.2 604.6,1659.4C606.4,1656.5 608.2,1654.9 610.0,1654.9C611.8,1654.9 613.5,1656.5 615.3,1659.4C617.1,1662.2 618.9,1666.8 620.7,1671.9C622.5,1676.9 624.4,1682.8 626.1,1689.7C627.9,1696.5 629.6,1704.9 631.4,1713.0C633.2,1721.0 635.0,1729.6 636.8,1738.0C638.6,1746.3 640.4,1754.6 642.1,1763.0C643.9,1771.3 645.7,1780.2 647.5,1788.0C649.3,1795.7 650.8,1803.8 652.9,1809.5C655.0,1815.1 657.6,1818.1 660.0,1822.0C662.4,1825.8 664.9,1828.5 667.2,1832.7C669.6,1836.8 671.9,1842.8 674.3,1847.0C676.7,1851.1 678.8,1855.0 681.5,1857.7C684.2,1860.4 686.9,1861.3 690.4,1863.1C694.0,1864.8 698.5,1867.2 702.9,1868.4C707.4,1869.5 712.8,1869.4 717.2,1869.9C721.7,1870.3 725.9,1870.3 729.7,1871.1C733.6,1871.9 736.6,1873.3 740.4,1874.7C744.3,1876.0 748.8,1877.2 752.9,1879.2C757.1,1881.1 761.5,1884.2 765.4,1886.3C769.3,1888.3 772.1,1889.8 776.2,1891.7C780.4,1893.6 786.6,1895.9 790.2,1897.7C793.9,1899.5 793.4,1901.1 797.9,1902.6C802.5,1904.0 810.9,1905.3 817.4,1906.5C823.9,1907.6 830.4,1908.4 836.8,1909.4C843.3,1910.3 850.4,1911.5 856.2,1912.3C862.1,1913.1 867.3,1912.7 871.8,1914.2C876.4,1915.6 879.5,1919.0 883.4,1921.0C887.3,1922.9 891.2,1924.4 895.1,1925.9C899.0,1927.3 902.9,1928.2 906.8,1929.8C910.7,1931.4 915.2,1933.8 918.4,1935.6C921.7,1937.3 923.0,1938.0 926.2,1940.5C929.5,1942.9 934.0,1946.9 937.9,1950.2C941.8,1953.4 945.6,1956.8 949.5,1959.9C953.4,1962.9 957.4,1966.0 961.2,1968.6C965.1,1971.2 968.9,1973.5 972.8,1975.5C976.7,1977.4 980.6,1979.0 984.5,1980.3C988.4,1981.5 992.4,1982.2 996.2,1983.2C1000.1,1984.1 1002.0,1985.5 1007.8,1986.1C1013.6,1986.6 1022.7,1986.6 1031.1,1986.7C1039.6,1986.8 1048.6,1986.7 1058.5,1986.7C1068.4,1986.6 1084.1,1986.8 1090.4,1986.4C1096.8,1986.0 1089.7,1985.0 1096.5,1984.4C1103.4,1983.8 1118.9,1983.3 1131.6,1982.9C1144.3,1982.4 1160.8,1982.1 1172.8,1981.7C1184.9,1981.2 1195.9,1980.3 1203.8,1980.3C1211.8,1980.3 1215.2,1980.8 1220.3,1981.7C1225.5,1982.6 1228.9,1984.2 1234.7,1985.8C1240.6,1987.3 1250.2,1989.8 1255.3,1991.2C1260.5,1992.6 1260.5,1993.1 1265.6,1994.1C1270.8,1995.0 1280.0,1995.9 1286.2,1996.8C1292.4,1997.7 1297.8,1998.6 1302.7,1999.4C1307.6,2000.2 1313.4,2001.1 1315.5,2001.5M312.6,1965.8C313.8,1969.2 317.6,1986.8 319.7,1986.4C321.7,1985.9 323.4,1974.5 325.1,1963.2C326.7,1951.9 328.4,1931.9 329.6,1918.5C330.8,1905.0 331.3,1894.6 332.2,1882.7C333.0,1870.8 334.0,1858.0 334.9,1847.0C335.8,1836.0 336.5,1823.4 337.6,1816.6C338.6,1809.7 339.4,1807.8 341.2,1805.9C342.9,1803.9 346.5,1807.7 348.3,1805.0C350.0,1802.3 350.7,1796.2 351.9,1789.8C353.1,1783.4 354.3,1773.1 355.5,1766.6C356.6,1760.0 357.7,1754.0 359.0,1750.5C360.2,1746.9 361.5,1744.8 363.0,1745.1C364.5,1745.4 366.2,1748.7 368.0,1752.3C369.7,1755.8 371.2,1761.8 373.3,1766.6C375.3,1771.3 378.1,1775.5 380.5,1780.9C382.8,1786.2 385.5,1793.4 387.6,1798.8C389.6,1804.1 390.9,1808.6 393.0,1813.1C395.0,1817.5 397.7,1821.3 400.1,1825.5C402.4,1829.6 404.9,1832.4 407.3,1838.1C409.6,1843.7 412.0,1852.6 414.4,1859.5C416.7,1866.3 418.8,1872.0 421.5,1879.2C424.1,1886.3 427.5,1895.2 430.5,1902.4C433.5,1909.5 436.5,1916.4 439.5,1922.1C442.4,1927.7 445.4,1931.9 448.4,1936.4C451.3,1940.8 454.3,1945.3 457.3,1948.9C460.2,1952.4 463.3,1955.1 466.3,1957.8C469.2,1960.4 471.9,1962.3 475.2,1964.9C478.4,1967.4 482.3,1970.9 485.9,1973.0C489.4,1975.1 493.0,1976.0 496.6,1977.5C500.1,1978.9 503.5,1980.7 507.4,1981.5C511.2,1982.3 515.7,1982.2 519.9,1982.3C524.0,1982.3 528.8,1982.8 532.4,1981.9C535.9,1980.9 538.3,1978.8 541.3,1976.6C544.3,1974.3 547.6,1972.2 550.4,1968.5C553.1,1964.7 555.5,1959.5 557.6,1954.2C559.7,1948.8 561.1,1942.9 562.9,1936.4C564.6,1929.8 566.5,1922.9 568.3,1914.9C570.1,1906.8 572.0,1897.9 573.7,1888.1C575.3,1878.2 576.7,1865.7 578.1,1855.9C579.4,1846.0 580.5,1839.5 581.7,1829.1C582.9,1818.6 584.1,1805.3 585.3,1793.4C586.5,1781.5 587.7,1768.7 588.9,1757.7C590.0,1746.7 591.0,1737.7 592.4,1727.3C593.7,1716.8 595.2,1704.3 596.9,1695.1C598.5,1685.8 600.5,1677.8 602.3,1671.9C604.0,1665.9 605.8,1662.2 607.6,1659.4C609.4,1656.5 611.2,1654.9 613.0,1654.9C614.8,1654.9 616.5,1656.5 618.3,1659.4C620.0,1662.2 621.9,1666.8 623.7,1671.9C625.5,1676.9 627.3,1682.8 629.1,1689.7C630.9,1696.5 632.6,1704.9 634.4,1713.0C636.1,1721.0 638.0,1729.6 639.8,1738.0C641.5,1746.3 643.3,1754.6 645.1,1763.0C646.9,1771.3 648.7,1780.2 650.5,1788.0C652.3,1795.7 653.8,1803.8 655.9,1809.5C658.0,1815.1 660.6,1818.1 663.0,1822.0C665.4,1825.8 667.8,1828.5 670.2,1832.7C672.6,1836.8 674.9,1842.8 677.3,1847.0C679.6,1851.1 681.8,1855.0 684.5,1857.7C687.2,1860.4 689.8,1861.3 693.4,1863.1C696.9,1864.8 701.4,1867.2 705.9,1868.4C710.3,1869.5 715.7,1869.4 720.2,1869.9C724.6,1870.3 728.8,1870.3 732.7,1871.1C736.5,1871.9 739.5,1873.3 743.4,1874.7C747.2,1876.0 751.7,1877.2 755.9,1879.2C760.0,1881.1 764.5,1884.2 768.4,1886.3C772.2,1888.3 775.0,1889.8 779.2,1891.7C783.3,1893.6 789.6,1895.9 793.2,1897.7C796.8,1899.5 796.3,1901.1 800.9,1902.6C805.4,1904.0 813.9,1905.3 820.4,1906.5C826.9,1907.6 833.3,1908.4 839.8,1909.4C846.2,1910.3 853.3,1911.5 859.2,1912.3C865.0,1913.1 870.2,1912.7 874.8,1914.2C879.3,1915.6 882.5,1919.0 886.4,1921.0C890.2,1922.9 894.2,1924.4 898.1,1925.9C902.0,1927.3 905.9,1928.2 909.8,1929.8C913.6,1931.4 918.1,1933.8 921.4,1935.6C924.6,1937.3 925.9,1938.0 929.2,1940.5C932.4,1942.9 937.0,1946.9 940.9,1950.2C944.8,1953.4 948.6,1956.8 952.5,1959.9C956.4,1962.9 960.3,1966.0 964.2,1968.6C968.1,1971.2 971.9,1973.5 975.8,1975.5C979.6,1977.4 983.6,1979.0 987.5,1980.3C991.4,1981.5 995.3,1982.2 999.2,1983.2C1003.1,1984.1 1005.0,1985.5 1010.8,1986.1C1016.6,1986.6 1025.6,1986.6 1034.1,1986.7C1042.5,1986.8 1051.6,1986.7 1061.5,1986.7C1071.4,1986.6 1087.0,1986.8 1093.4,1986.4C1099.7,1986.0 1092.6,1985.0 1099.5,1984.4C1106.3,1983.8 1121.8,1983.3 1134.6,1982.9C1147.3,1982.4 1163.7,1982.1 1175.8,1981.7C1187.8,1981.2 1198.8,1980.3 1206.8,1980.3C1214.7,1980.3 1218.1,1980.8 1223.3,1981.7C1228.4,1982.6 1231.8,1984.2 1237.7,1985.8C1243.5,1987.3 1253.1,1989.8 1258.3,1991.2C1263.4,1992.6 1263.4,1993.1 1268.6,1994.1C1273.7,1995.0 1283.0,1995.9 1289.2,1996.8C1295.4,1997.7 1300.8,1998.6 1305.7,1999.4C1310.6,2000.2 1316.3,2001.1 1318.5,2001.5" fill="none" stroke="#0000ff" stroke-width="2.67" stroke-linejoin="round" stroke-linecap="square"/>
<line x1="456.7" y1="1518.0" x2="405.6" y2="1648.9" stroke="#000000" stroke-width="6.2"/>
<path d="M396.9,1671.3L394.8,1638.3L405.6,1648.9L420.8,1648.4Z" fill="#000000" stroke="#000000" stroke-width="1.6" stroke-linejoin="round"/>
<line x1="540.7" y1="1652.5" x2="576.2" y2="1793.6" stroke="#0000ff" stroke-width="6.2"/>
<path d="M582.0,1816.9L561.1,1791.2L576.2,1793.6L588.3,1784.4Z" fill="#0000ff" stroke="#0000ff" stroke-width="1.6" stroke-linejoin="round"/>
<line x1="808.2" y1="1650.4" x2="771.9" y2="1793.6" stroke="#ff0000" stroke-width="6.2"/>
<path d="M766.0,1816.9L759.8,1784.4L771.9,1793.6L786.9,1791.3Z" fill="#ff0000" stroke="#ff0000" stroke-width="1.6" stroke-linejoin="round"/>
<text transform="translate(467.98,2113.20) scale(1.0401,1)" font-size="83.40" fill="#000">200</text>
<text transform="translate(731.19,2113.20) scale(1.0228,1)" font-size="83.40" fill="#000">400</text>
<text transform="translate(990.27,2113.20) scale(1.0393,1)" font-size="83.40" fill="#000">600</text>
<text transform="translate(1251.82,2113.20) scale(1.0357,1)" font-size="83.40" fill="#000">800</text>
<text transform="translate(0,2184.00) scale(1.0551,1)" font-size="95.00" x="464.40 523.45 566.63 641.54 690.05 733.23 765.88 809.06 836.47 884.98 917.64 958.39 978.09 1006.70 1041.66 1102.00" xml:space="preserve">Temperature (°C)</text>
<text transform="translate(253.20,0) rotate(-90) scale(1.0373,1)" font-size="91.00" x="-2031.85 -1965.30 -1924.08 -1892.94 -1866.82 -1820.49 -1796.91 -1710.18 -1668.96 -1642.85 -1596.51 -1550.18 -1523.50 -1506.20 -1477.75 -1403.81 -1380.38 -1345.85 -1287.01" xml:space="preserve">Deriv.Weight (%/°C)</text>
<text transform="translate(1210.29,1337.62) scale(0.8319,0.9271)" font-size="100" fill="#000">B</text>
<text transform="translate(455.34,1504.77) scale(0.9038,0.7265)" font-size="100" fill="#000">a</text>
<text transform="translate(517.90,1644.82) scale(0.8160,0.7817)" font-size="100" fill="#000">c</text>
<text transform="translate(801.40,1642.83) scale(0.9048,0.7727)" font-size="100" fill="#000">b</text>
</g>
</svg></body></html>
